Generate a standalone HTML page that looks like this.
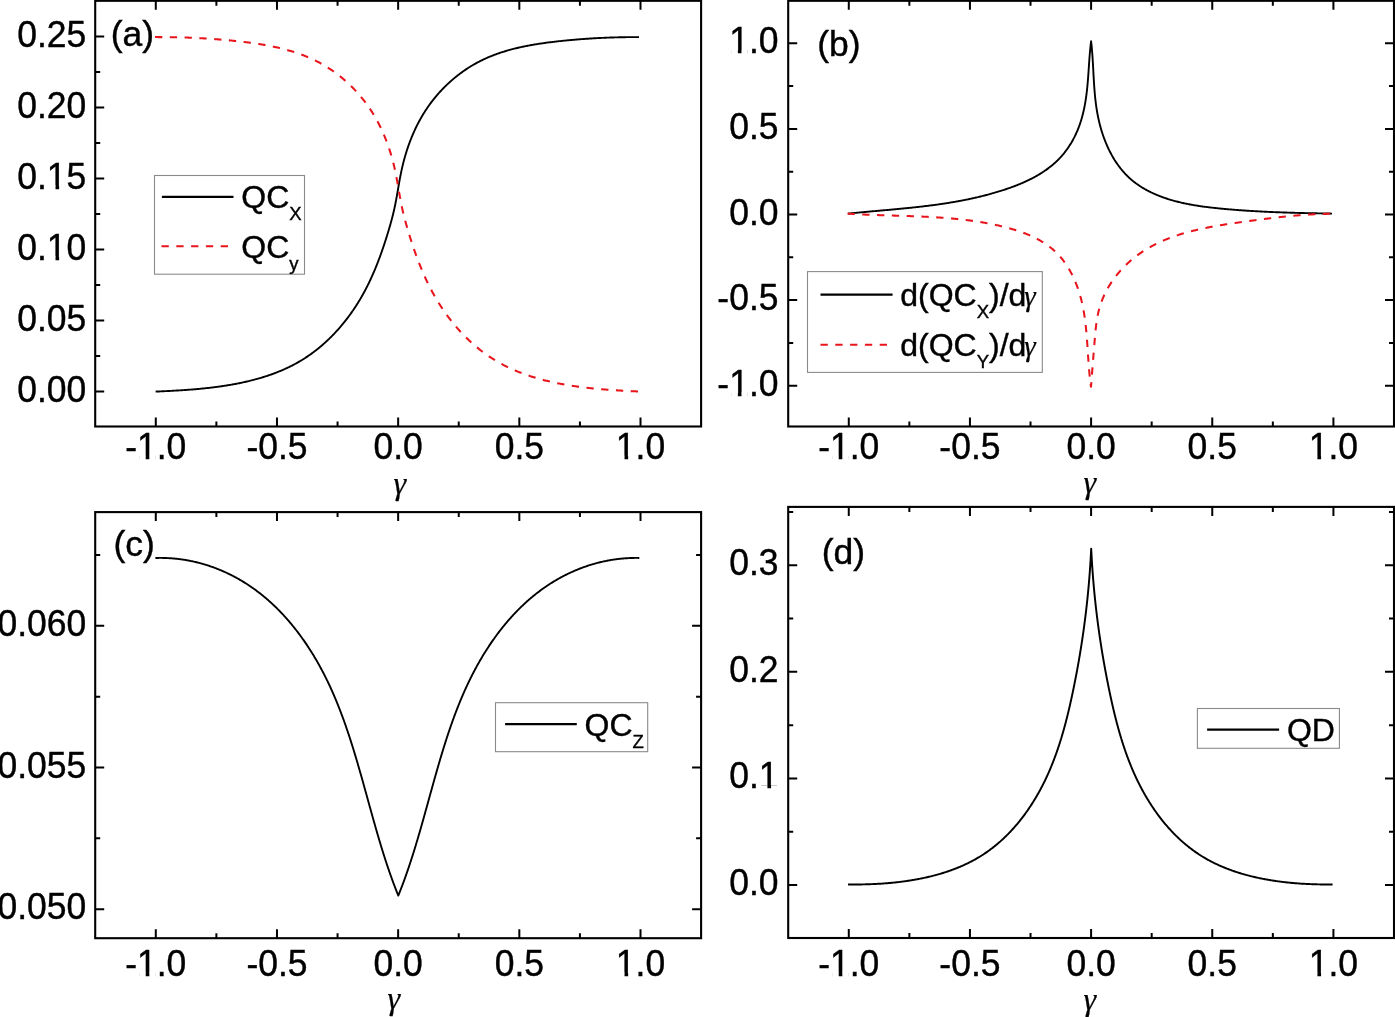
<!DOCTYPE html>
<html lang="en"><head><meta charset="utf-8"><title>Quantum coherence vs anisotropy</title>
<style>html,body{margin:0;padding:0;background:#fff}body{width:1395px;height:1017px;overflow:hidden}svg{display:block;will-change:transform}text{font-family:"Liberation Sans", sans-serif;fill:#000;stroke:#000;stroke-width:.4px}.g{font-family:"Liberation Serif", serif;font-style:italic;stroke-width:.25px}</style></head><body>
<svg width="1395" height="1017" viewBox="0 0 1395 1017">
<rect width="1395" height="1017" fill="#fff"/>
<path d="M155.6 391.6L156.53 391.56L157.45 391.52L158.38 391.48L159.31 391.43L160.24 391.39L161.18 391.35L162.11 391.3L163.05 391.26L163.98 391.22L164.92 391.17L165.86 391.12L166.81 391.08L167.75 391.03L168.69 390.98L169.64 390.93L170.59 390.88L171.54 390.83L172.49 390.78L173.44 390.73L174.39 390.67L175.34 390.62L176.3 390.56L177.25 390.51L178.21 390.45L179.17 390.39L180.13 390.33L181.09 390.27L182.05 390.21L183.01 390.15L183.97 390.08L184.93 390.01L185.9 389.95L186.86 389.88L187.82 389.81L188.79 389.74L189.76 389.66L190.72 389.59L191.69 389.51L192.66 389.43L193.63 389.35L194.6 389.27L195.57 389.19L196.54 389.11L197.51 389.02L198.48 388.93L199.45 388.84L200.42 388.75L201.39 388.66L202.36 388.56L203.34 388.46L204.31 388.36L205.28 388.26L206.25 388.16L207.23 388.05L208.2 387.95L209.17 387.84L210.15 387.73L211.12 387.61L212.09 387.5L213.06 387.38L214.04 387.26L215.01 387.13L215.98 387.01L216.95 386.88L217.92 386.75L218.9 386.62L219.87 386.48L220.84 386.34L221.81 386.2L222.78 386.06L223.75 385.91L224.72 385.77L225.69 385.61L226.65 385.46L227.62 385.3L228.59 385.15L229.55 384.98L230.52 384.82L231.48 384.65L232.45 384.48L233.41 384.31L234.37 384.13L235.33 383.95L236.3 383.77L237.26 383.58L238.21 383.39L239.17 383.2L240.13 383L241.09 382.81L242.04 382.6L242.99 382.4L243.95 382.19L244.9 381.98L245.85 381.76L246.8 381.55L247.75 381.32L248.69 381.1L249.64 380.87L250.58 380.64L251.53 380.4L252.47 380.16L253.41 379.92L254.35 379.67L255.28 379.42L256.22 379.17L257.15 378.91L258.09 378.65L259.02 378.38L259.95 378.11L260.87 377.84L261.8 377.56L262.72 377.28L263.65 376.99L264.57 376.7L265.49 376.41L266.4 376.11L267.32 375.81L268.23 375.5L269.14 375.19L270.05 374.88L270.96 374.56L271.86 374.24L272.77 373.91L273.67 373.58L274.57 373.24L275.46 372.9L276.36 372.56L277.25 372.21L278.14 371.85L279.03 371.49L279.91 371.13L280.8 370.76L281.68 370.39L282.56 370.01L283.43 369.63L284.3 369.25L285.18 368.85L286.04 368.46L286.91 368.06L287.77 367.65L288.63 367.24L289.49 366.82L290.35 366.4L291.2 365.98L292.05 365.55L292.89 365.11L293.74 364.67L294.58 364.22L295.42 363.77L296.25 363.31L297.08 362.85L297.91 362.39L298.74 361.91L299.56 361.44L300.38 360.95L301.2 360.46L302.01 359.97L302.82 359.47L303.63 358.96L304.44 358.45L305.24 357.94L306.04 357.42L306.83 356.89L307.62 356.36L308.41 355.82L309.2 355.28L309.98 354.73L310.76 354.18L311.53 353.62L312.3 353.06L313.07 352.49L313.84 351.92L314.6 351.35L315.36 350.76L316.11 350.18L316.86 349.58L317.61 348.99L318.36 348.39L319.1 347.78L319.84 347.17L320.57 346.56L321.3 345.94L322.03 345.31L322.76 344.68L323.48 344.05L324.2 343.41L324.91 342.77L325.62 342.13L326.33 341.47L327.03 340.82L327.73 340.16L328.43 339.5L329.12 338.83L329.81 338.16L330.5 337.48L331.18 336.8L331.86 336.12L332.54 335.43L333.21 334.74L333.88 334.05L334.54 333.35L335.2 332.64L335.86 331.94L336.51 331.23L337.16 330.51L337.81 329.8L338.45 329.07L339.09 328.35L339.73 327.62L340.36 326.89L340.99 326.15L341.61 325.42L342.23 324.67L342.85 323.93L343.46 323.18L344.07 322.43L344.68 321.67L345.28 320.91L345.88 320.15L346.47 319.39L347.06 318.62L347.65 317.85L348.23 317.07L348.81 316.3L349.39 315.52L349.96 314.73L350.52 313.95L351.09 313.16L351.65 312.37L352.2 311.57L352.76 310.78L353.3 309.98L353.85 309.18L354.39 308.37L354.92 307.56L355.46 306.75L355.98 305.94L356.51 305.13L357.03 304.31L357.54 303.49L358.06 302.67L358.56 301.85L359.07 301.02L359.57 300.19L360.06 299.36L360.56 298.53L361.04 297.69L361.53 296.86L362.01 296.02L362.48 295.18L362.96 294.33L363.42 293.49L363.89 292.64L364.35 291.79L364.8 290.94L365.26 290.09L365.7 289.24L366.15 288.38L366.59 287.52L367.03 286.66L367.46 285.8L367.89 284.94L368.32 284.07L368.74 283.21L369.16 282.34L369.58 281.47L369.99 280.6L370.4 279.73L370.81 278.85L371.21 277.97L371.61 277.1L372.01 276.22L372.4 275.34L372.79 274.46L373.18 273.57L373.56 272.69L373.95 271.8L374.32 270.91L374.7 270.03L375.07 269.14L375.44 268.24L375.81 267.35L376.17 266.46L376.53 265.56L376.89 264.67L377.24 263.77L377.59 262.87L377.94 261.97L378.29 261.07L378.63 260.17L378.98 259.27L379.32 258.36L379.65 257.46L379.99 256.55L380.32 255.65L380.65 254.74L380.97 253.83L381.3 252.92L381.62 252.01L381.94 251.1L382.26 250.19L382.57 249.28L382.89 248.36L383.2 247.45L383.51 246.53L383.82 245.62L384.12 244.7L384.42 243.79L384.72 242.87L385.02 241.95L385.32 241.03L385.62 240.12L385.91 239.2L386.2 238.28L386.49 237.36L386.78 236.44L387.07 235.51L387.35 234.59L387.63 233.67L387.92 232.75L388.2 231.83L388.47 230.9L388.75 229.98L389.02 229.06L389.3 228.13L389.57 227.21L389.83 226.28L390.1 225.36L390.36 224.43L390.62 223.51L390.88 222.58L391.13 221.65L391.39 220.72L391.64 219.8L391.88 218.87L392.13 217.94L392.37 217.01L392.6 216.08L392.84 215.14L393.07 214.21L393.29 213.28L393.52 212.34L393.74 211.41L393.95 210.47L394.16 209.54L394.37 208.6L394.58 207.66L394.78 206.73L394.97 205.79L395.17 204.85L395.36 203.91L395.54 202.97L395.72 202.02L395.91 201.08L396.08 200.14L396.26 199.2L396.43 198.25L396.6 197.31L396.77 196.36L396.94 195.42L397.11 194.47L397.27 193.53L397.44 192.58L397.6 191.64L397.76 190.69L397.93 189.74L398.09 188.8L398.25 187.85L398.42 186.9L398.58 185.96L398.75 185.01L398.91 184.06L399.08 183.12L399.24 182.17L399.41 181.22L399.59 180.28L399.76 179.33L399.93 178.39L400.11 177.44L400.29 176.5L400.47 175.55L400.66 174.61L400.85 173.66L401.04 172.72L401.24 171.78L401.44 170.83L401.64 169.89L401.85 168.95L402.06 168.01L402.28 167.07L402.5 166.13L402.72 165.19L402.95 164.26L403.18 163.32L403.42 162.38L403.66 161.45L403.91 160.51L404.16 159.58L404.41 158.65L404.67 157.72L404.93 156.79L405.2 155.86L405.47 154.93L405.75 154.01L406.03 153.08L406.32 152.16L406.61 151.24L406.9 150.32L407.2 149.4L407.5 148.48L407.81 147.57L408.12 146.65L408.44 145.74L408.76 144.83L409.09 143.92L409.42 143.01L409.76 142.11L410.1 141.2L410.44 140.3L410.8 139.4L411.15 138.51L411.51 137.61L411.88 136.72L412.25 135.82L412.62 134.94L413 134.05L413.38 133.16L413.77 132.28L414.17 131.4L414.57 130.52L414.97 129.65L415.38 128.77L415.79 127.9L416.21 127.04L416.64 126.17L417.07 125.31L417.5 124.45L417.94 123.59L418.39 122.74L418.84 121.88L419.29 121.03L419.75 120.19L420.22 119.34L420.69 118.5L421.16 117.67L421.65 116.83L422.13 116L422.63 115.17L423.12 114.35L423.63 113.53L424.13 112.71L424.65 111.89L425.17 111.08L425.69 110.27L426.22 109.47L426.76 108.67L427.3 107.87L427.84 107.07L428.4 106.28L428.95 105.5L429.51 104.71L430.08 103.93L430.66 103.16L431.23 102.38L431.82 101.61L432.4 100.85L433 100.09L433.6 99.33L434.2 98.58L434.81 97.83L435.42 97.08L436.04 96.34L436.66 95.61L437.29 94.87L437.93 94.14L438.56 93.42L439.21 92.7L439.85 91.98L440.51 91.27L441.16 90.56L441.82 89.86L442.49 89.16L443.16 88.47L443.84 87.78L444.52 87.09L445.2 86.41L445.89 85.74L446.58 85.07L447.28 84.4L447.98 83.74L448.69 83.08L449.4 82.43L450.11 81.78L450.83 81.14L451.56 80.5L452.28 79.87L453.01 79.24L453.75 78.62L454.49 78L455.23 77.39L455.98 76.78L456.73 76.18L457.49 75.58L458.25 74.99L459.01 74.4L459.78 73.82L460.55 73.25L461.32 72.67L462.1 72.11L462.88 71.55L463.67 71L464.46 70.45L465.25 69.9L466.05 69.37L466.85 68.84L467.65 68.31L468.46 67.79L469.27 67.28L470.09 66.77L470.9 66.26L471.72 65.77L472.55 65.28L473.38 64.79L474.21 64.31L475.04 63.84L475.88 63.37L476.72 62.91L477.56 62.46L478.41 62.01L479.26 61.56L480.11 61.13L480.96 60.7L481.82 60.28L482.68 59.86L483.55 59.45L484.42 59.04L485.29 58.64L486.16 58.25L487.03 57.86L487.91 57.48L488.79 57.1L489.67 56.73L490.56 56.37L491.45 56.01L492.34 55.65L493.23 55.31L494.13 54.96L495.02 54.63L495.92 54.29L496.83 53.97L497.73 53.65L498.64 53.33L499.55 53.02L500.46 52.71L501.37 52.41L502.29 52.11L503.2 51.82L504.12 51.54L505.04 51.25L505.97 50.98L506.89 50.7L507.82 50.44L508.74 50.17L509.67 49.91L510.6 49.66L511.54 49.41L512.47 49.16L513.41 48.92L514.35 48.68L515.28 48.45L516.22 48.22L517.17 47.99L518.11 47.77L519.05 47.55L520 47.34L520.95 47.13L521.89 46.92L522.84 46.72L523.79 46.52L524.74 46.33L525.7 46.14L526.65 45.95L527.6 45.76L528.56 45.58L529.51 45.4L530.47 45.23L531.43 45.05L532.38 44.88L533.34 44.72L534.3 44.56L535.26 44.4L536.22 44.24L537.18 44.08L538.15 43.93L539.11 43.78L540.07 43.64L541.03 43.49L541.99 43.35L542.96 43.21L543.92 43.08L544.89 42.94L545.85 42.81L546.81 42.68L547.78 42.56L548.74 42.43L549.7 42.31L550.67 42.19L551.63 42.07L552.6 41.95L553.56 41.84L554.52 41.72L555.49 41.61L556.45 41.5L557.41 41.39L558.37 41.29L559.33 41.18L560.3 41.08L561.26 40.98L562.22 40.88L563.18 40.78L564.13 40.68L565.09 40.58L566.05 40.49L567.01 40.39L567.97 40.3L568.92 40.21L569.88 40.12L570.84 40.03L571.79 39.95L572.75 39.86L573.71 39.78L574.66 39.69L575.62 39.61L576.57 39.53L577.53 39.45L578.48 39.38L579.44 39.3L580.39 39.23L581.34 39.15L582.3 39.08L583.25 39.01L584.21 38.94L585.16 38.87L586.11 38.81L587.07 38.74L588.02 38.68L588.98 38.62L589.93 38.55L590.88 38.49L591.84 38.44L592.79 38.38L593.75 38.32L594.7 38.27L595.65 38.21L596.61 38.16L597.56 38.11L598.52 38.06L599.47 38.01L600.43 37.97L601.38 37.92L602.34 37.88L603.29 37.83L604.25 37.79L605.21 37.75L606.16 37.71L607.12 37.67L608.08 37.64L609.04 37.6L609.99 37.57L610.95 37.53L611.91 37.5L612.87 37.47L613.83 37.44L614.79 37.41L615.75 37.39L616.71 37.36L617.67 37.34L618.64 37.31L619.6 37.29L620.56 37.27L621.53 37.25L622.49 37.23L623.46 37.22L624.42 37.2L625.39 37.18L626.36 37.17L627.33 37.16L628.29 37.15L629.26 37.14L630.23 37.13L631.2 37.12L632.18 37.11L633.15 37.11L634.12 37.1L635.1 37.1L636.07 37.1L637.05 37.1L638.02 37.1L639 37.1" fill="none" stroke="#000" stroke-width="1.9" stroke-linejoin="round"/>
<path d="M155 37.07L157.6 37.1L158.58 37.1L159.55 37.1L160.53 37.1L161.5 37.1L162.48 37.1L163.45 37.11L164.42 37.11L165.4 37.12L166.37 37.13L167.34 37.14L168.31 37.15L169.27 37.16L170.24 37.17L171.21 37.18L172.18 37.2L173.14 37.22L174.11 37.23L175.07 37.25L176.04 37.27L177 37.29L177.96 37.31L178.93 37.34L179.89 37.36L180.85 37.39L181.81 37.41L182.77 37.44L183.73 37.47L184.69 37.5L185.65 37.53L186.61 37.57L187.56 37.6L188.52 37.64L189.48 37.67L190.44 37.71L191.39 37.75L192.35 37.79L193.31 37.83L194.26 37.88L195.22 37.92L196.17 37.97L197.13 38.01L198.08 38.06L199.04 38.11L199.99 38.16L200.95 38.21L201.9 38.27L202.85 38.32L203.81 38.38L204.76 38.44L205.72 38.49L206.67 38.55L207.62 38.62L208.58 38.68L209.53 38.74L210.49 38.81L211.44 38.87L212.39 38.94L213.35 39.01L214.3 39.08L215.26 39.15L216.21 39.23L217.16 39.3L218.12 39.38L219.07 39.45L220.03 39.53L220.98 39.61L221.94 39.69L222.89 39.78L223.85 39.86L224.81 39.95L225.76 40.03L226.72 40.12L227.68 40.21L228.63 40.3L229.59 40.39L230.55 40.49L231.51 40.58L232.47 40.68L233.42 40.78L234.38 40.88L235.34 40.98L236.3 41.08L237.27 41.18L238.23 41.29L239.19 41.39L240.15 41.5L241.11 41.61L242.08 41.72L243.04 41.84L244 41.95L244.97 42.07L245.93 42.19L246.9 42.31L247.86 42.43L248.82 42.56L249.79 42.68L250.75 42.81L251.71 42.94L252.68 43.08L253.64 43.21L254.61 43.35L255.57 43.49L256.53 43.64L257.49 43.78L258.45 43.93L259.42 44.08L260.38 44.24L261.34 44.4L262.3 44.56L263.26 44.72L264.22 44.88L265.17 45.05L266.13 45.23L267.09 45.4L268.04 45.58L269 45.76L269.95 45.95L270.9 46.14L271.86 46.33L272.81 46.52L273.76 46.72L274.71 46.92L275.65 47.13L276.6 47.34L277.55 47.55L278.49 47.77L279.43 47.99L280.38 48.22L281.32 48.45L282.25 48.68L283.19 48.92L284.13 49.16L285.06 49.41L286 49.66L286.93 49.91L287.86 50.17L288.78 50.44L289.71 50.7L290.63 50.98L291.56 51.25L292.48 51.54L293.4 51.82L294.31 52.11L295.23 52.41L296.14 52.71L297.05 53.02L297.96 53.33L298.87 53.65L299.77 53.97L300.68 54.29L301.58 54.63L302.47 54.96L303.37 55.31L304.26 55.65L305.15 56.01L306.04 56.37L306.93 56.73L307.81 57.1L308.69 57.48L309.57 57.86L310.44 58.25L311.31 58.64L312.18 59.04L313.05 59.45L313.92 59.86L314.78 60.28L315.64 60.7L316.49 61.13L317.34 61.56L318.19 62.01L319.04 62.46L319.88 62.91L320.72 63.37L321.56 63.84L322.39 64.31L323.22 64.79L324.05 65.28L324.88 65.77L325.7 66.26L326.51 66.77L327.33 67.28L328.14 67.79L328.95 68.31L329.75 68.84L330.55 69.37L331.35 69.9L332.14 70.45L332.93 71L333.72 71.55L334.5 72.11L335.28 72.67L336.05 73.25L336.82 73.82L337.59 74.4L338.35 74.99L339.11 75.58L339.87 76.18L340.62 76.78L341.37 77.39L342.11 78L342.85 78.62L343.59 79.24L344.32 79.87L345.04 80.5L345.77 81.14L346.49 81.78L347.2 82.43L347.91 83.08L348.62 83.74L349.32 84.4L350.02 85.07L350.71 85.74L351.4 86.41L352.08 87.09L352.76 87.78L353.44 88.47L354.11 89.16L354.78 89.86L355.44 90.56L356.09 91.27L356.75 91.98L357.39 92.7L358.04 93.42L358.67 94.14L359.31 94.87L359.94 95.61L360.56 96.34L361.18 97.08L361.79 97.83L362.4 98.58L363 99.33L363.6 100.09L364.2 100.85L364.78 101.61L365.37 102.38L365.94 103.16L366.52 103.93L367.09 104.71L367.65 105.5L368.2 106.28L368.76 107.07L369.3 107.87L369.84 108.67L370.38 109.47L370.91 110.27L371.43 111.08L371.95 111.89L372.47 112.71L372.97 113.53L373.48 114.35L373.97 115.17L374.47 116L374.95 116.83L375.44 117.67L375.91 118.5L376.38 119.34L376.85 120.19L377.31 121.03L377.76 121.88L378.21 122.74L378.66 123.59L379.1 124.45L379.53 125.31L379.96 126.17L380.39 127.04L380.81 127.9L381.22 128.77L381.63 129.65L382.03 130.52L382.43 131.4L382.83 132.28L383.22 133.16L383.6 134.05L383.98 134.94L384.35 135.82L384.72 136.72L385.09 137.61L385.45 138.51L385.8 139.4L386.16 140.3L386.5 141.2L386.84 142.11L387.18 143.01L387.51 143.92L387.84 144.83L388.16 145.74L388.48 146.65L388.79 147.57L389.1 148.48L389.4 149.4L389.7 150.32L389.99 151.24L390.28 152.16L390.57 153.08L390.85 154.01L391.13 154.93L391.4 155.86L391.67 156.79L391.93 157.72L392.19 158.65L392.44 159.58L392.69 160.51L392.94 161.45L393.18 162.38L393.42 163.32L393.65 164.26L393.88 165.19L394.1 166.13L394.32 167.07L394.54 168.01L394.75 168.95L394.96 169.89L395.16 170.83L395.36 171.78L395.56 172.72L395.75 173.66L395.94 174.61L396.13 175.55L396.31 176.5L396.49 177.44L396.67 178.39L396.84 179.33L397.01 180.28L397.19 181.22L397.36 182.17L397.52 183.12L397.69 184.06L397.85 185.01L398.02 185.96L398.18 186.9L398.35 187.85L398.51 188.8L398.67 189.74L398.84 190.69L399 191.64L399.16 192.58L399.33 193.53L399.49 194.47L399.66 195.42L399.83 196.36L400 197.31L400.17 198.25L400.34 199.2L400.52 200.14L400.69 201.08L400.88 202.02L401.06 202.97L401.24 203.91L401.43 204.85L401.63 205.79L401.82 206.73L402.02 207.66L402.23 208.6L402.44 209.54L402.65 210.47L402.86 211.41L403.08 212.34L403.31 213.28L403.53 214.21L403.76 215.14L404 216.08L404.23 217.01L404.47 217.94L404.72 218.87L404.96 219.8L405.21 220.72L405.47 221.65L405.72 222.58L405.98 223.51L406.24 224.43L406.5 225.36L406.77 226.28L407.03 227.21L407.3 228.13L407.58 229.06L407.85 229.98L408.13 230.9L408.4 231.83L408.68 232.75L408.97 233.67L409.25 234.59L409.53 235.51L409.82 236.44L410.11 237.36L410.4 238.28L410.69 239.2L410.98 240.12L411.28 241.03L411.58 241.95L411.88 242.87L412.18 243.79L412.48 244.7L412.78 245.62L413.09 246.53L413.4 247.45L413.71 248.36L414.03 249.28L414.34 250.19L414.66 251.1L414.98 252.01L415.3 252.92L415.63 253.83L415.95 254.74L416.28 255.65L416.61 256.55L416.95 257.46L417.28 258.36L417.62 259.27L417.97 260.17L418.31 261.07L418.66 261.97L419.01 262.87L419.36 263.77L419.71 264.67L420.07 265.56L420.43 266.46L420.79 267.35L421.16 268.24L421.53 269.14L421.9 270.03L422.28 270.91L422.65 271.8L423.04 272.69L423.42 273.57L423.81 274.46L424.2 275.34L424.59 276.22L424.99 277.1L425.39 277.97L425.79 278.85L426.2 279.73L426.61 280.6L427.02 281.47L427.44 282.34L427.86 283.21L428.28 284.07L428.71 284.94L429.14 285.8L429.57 286.66L430.01 287.52L430.45 288.38L430.9 289.24L431.34 290.09L431.8 290.94L432.25 291.79L432.71 292.64L433.18 293.49L433.64 294.33L434.12 295.18L434.59 296.02L435.07 296.86L435.56 297.69L436.04 298.53L436.54 299.36L437.03 300.19L437.53 301.02L438.04 301.85L438.54 302.67L439.06 303.49L439.57 304.31L440.09 305.13L440.62 305.94L441.14 306.75L441.68 307.56L442.21 308.37L442.75 309.18L443.3 309.98L443.84 310.78L444.4 311.57L444.95 312.37L445.51 313.16L446.08 313.95L446.64 314.73L447.21 315.52L447.79 316.3L448.37 317.07L448.95 317.85L449.54 318.62L450.13 319.39L450.72 320.15L451.32 320.91L451.92 321.67L452.53 322.43L453.14 323.18L453.75 323.93L454.37 324.67L454.99 325.42L455.61 326.15L456.24 326.89L456.87 327.62L457.51 328.35L458.15 329.07L458.79 329.8L459.44 330.51L460.09 331.23L460.74 331.94L461.4 332.64L462.06 333.35L462.72 334.05L463.39 334.74L464.06 335.43L464.74 336.12L465.42 336.8L466.1 337.48L466.79 338.16L467.48 338.83L468.17 339.5L468.87 340.16L469.57 340.82L470.27 341.47L470.98 342.13L471.69 342.77L472.4 343.41L473.12 344.05L473.84 344.68L474.57 345.31L475.3 345.94L476.03 346.56L476.76 347.17L477.5 347.78L478.24 348.39L478.99 348.99L479.74 349.58L480.49 350.18L481.24 350.76L482 351.35L482.76 351.92L483.53 352.49L484.3 353.06L485.07 353.62L485.84 354.18L486.62 354.73L487.4 355.28L488.19 355.82L488.98 356.36L489.77 356.89L490.56 357.42L491.36 357.94L492.16 358.45L492.97 358.96L493.78 359.47L494.59 359.97L495.4 360.46L496.22 360.95L497.04 361.44L497.86 361.91L498.69 362.39L499.52 362.85L500.35 363.31L501.18 363.77L502.02 364.22L502.86 364.67L503.71 365.11L504.55 365.55L505.4 365.98L506.25 366.4L507.11 366.82L507.97 367.24L508.83 367.65L509.69 368.06L510.56 368.46L511.42 368.85L512.3 369.25L513.17 369.63L514.04 370.01L514.92 370.39L515.8 370.76L516.69 371.13L517.57 371.49L518.46 371.85L519.35 372.21L520.24 372.56L521.14 372.9L522.03 373.24L522.93 373.58L523.83 373.91L524.74 374.24L525.64 374.56L526.55 374.88L527.46 375.19L528.37 375.5L529.28 375.81L530.2 376.11L531.11 376.41L532.03 376.7L532.95 376.99L533.88 377.28L534.8 377.56L535.73 377.84L536.65 378.11L537.58 378.38L538.51 378.65L539.45 378.91L540.38 379.17L541.32 379.42L542.25 379.67L543.19 379.92L544.13 380.16L545.07 380.4L546.02 380.64L546.96 380.87L547.91 381.1L548.85 381.32L549.8 381.55L550.75 381.76L551.7 381.98L552.65 382.19L553.61 382.4L554.56 382.6L555.51 382.81L556.47 383L557.43 383.2L558.39 383.39L559.34 383.58L560.3 383.77L561.27 383.95L562.23 384.13L563.19 384.31L564.15 384.48L565.12 384.65L566.08 384.82L567.05 384.98L568.01 385.15L568.98 385.3L569.95 385.46L570.91 385.61L571.88 385.77L572.85 385.91L573.82 386.06L574.79 386.2L575.76 386.34L576.73 386.48L577.7 386.62L578.68 386.75L579.65 386.88L580.62 387.01L581.59 387.13L582.56 387.26L583.54 387.38L584.51 387.5L585.48 387.61L586.45 387.73L587.43 387.84L588.4 387.95L589.37 388.05L590.35 388.16L591.32 388.26L592.29 388.36L593.26 388.46L594.24 388.56L595.21 388.66L596.18 388.75L597.15 388.84L598.12 388.93L599.09 389.02L600.06 389.11L601.03 389.19L602 389.27L602.97 389.35L603.94 389.43L604.91 389.51L605.88 389.59L606.84 389.66L607.81 389.74L608.78 389.81L609.74 389.88L610.7 389.95L611.67 390.01L612.63 390.08L613.59 390.15L614.55 390.21L615.51 390.27L616.47 390.33L617.43 390.39L618.39 390.45L619.35 390.51L620.3 390.56L621.26 390.62L622.21 390.67L623.16 390.73L624.11 390.78L625.06 390.83L626.01 390.88L626.96 390.93L627.91 390.98L628.85 391.03L629.79 391.08L630.74 391.12L631.68 391.17L632.62 391.22L633.55 391.26L634.49 391.3L635.42 391.35L636.36 391.39L637.29 391.43L638.22 391.48L639.15 391.52" fill="none" stroke="#e8151d" stroke-width="2.05" stroke-linejoin="round" stroke-dasharray="7.3 7.5"/>
<path d="M848 213.6L848.87 213.51L849.74 213.43L850.6 213.34L851.47 213.25L852.34 213.17L853.21 213.08L854.07 213L854.94 212.91L855.81 212.83L856.67 212.75L857.54 212.67L858.41 212.58L859.28 212.5L860.14 212.42L861.01 212.34L861.88 212.26L862.74 212.18L863.61 212.1L864.48 212.02L865.34 211.94L866.21 211.86L867.08 211.79L867.94 211.71L868.81 211.63L869.67 211.55L870.54 211.47L871.41 211.4L872.27 211.32L873.14 211.24L874 211.17L874.87 211.09L875.74 211.01L876.6 210.94L877.47 210.86L878.33 210.78L879.2 210.7L880.06 210.63L880.93 210.55L881.79 210.47L882.66 210.4L883.52 210.32L884.39 210.24L885.25 210.17L886.12 210.09L886.98 210.01L887.85 209.93L888.71 209.86L889.57 209.78L890.44 209.7L891.3 209.62L892.17 209.54L893.03 209.46L893.89 209.38L894.76 209.3L895.62 209.22L896.48 209.14L897.35 209.06L898.21 208.98L899.07 208.9L899.94 208.82L900.8 208.74L901.66 208.65L902.52 208.57L903.39 208.49L904.25 208.4L905.11 208.32L905.97 208.23L906.84 208.14L907.7 208.06L908.56 207.97L909.42 207.88L910.28 207.79L911.14 207.7L912 207.61L912.87 207.52L913.73 207.43L914.59 207.34L915.45 207.25L916.31 207.15L917.17 207.06L918.03 206.96L918.89 206.86L919.75 206.77L920.61 206.67L921.47 206.57L922.33 206.47L923.19 206.37L924.05 206.27L924.91 206.17L925.77 206.06L926.62 205.96L927.48 205.85L928.34 205.74L929.2 205.64L930.06 205.53L930.92 205.42L931.77 205.31L932.63 205.19L933.49 205.08L934.35 204.97L935.21 204.85L936.06 204.73L936.92 204.61L937.78 204.5L938.63 204.37L939.49 204.25L940.35 204.13L941.2 204L942.06 203.88L942.91 203.75L943.77 203.62L944.63 203.49L945.48 203.36L946.34 203.23L947.19 203.09L948.05 202.96L948.9 202.82L949.75 202.68L950.61 202.54L951.46 202.4L952.32 202.26L953.17 202.11L954.02 201.96L954.88 201.82L955.73 201.67L956.58 201.51L957.44 201.36L958.29 201.21L959.14 201.05L959.99 200.89L960.85 200.73L961.7 200.57L962.55 200.41L963.4 200.24L964.25 200.07L965.1 199.9L965.95 199.73L966.8 199.56L967.66 199.39L968.51 199.21L969.36 199.03L970.21 198.85L971.06 198.67L971.9 198.48L972.75 198.3L973.6 198.11L974.45 197.92L975.3 197.73L976.15 197.53L977 197.33L977.85 197.14L978.69 196.93L979.54 196.73L980.39 196.53L981.23 196.32L982.08 196.11L982.93 195.9L983.77 195.68L984.62 195.47L985.47 195.25L986.31 195.03L987.16 194.8L988 194.58L988.85 194.35L989.69 194.12L990.54 193.89L991.38 193.65L992.23 193.42L993.07 193.18L993.91 192.93L994.76 192.69L995.6 192.44L996.44 192.19L997.29 191.94L998.13 191.68L998.97 191.43L999.81 191.17L1000.66 190.9L1001.5 190.64L1002.34 190.37L1003.18 190.1L1004.02 189.83L1004.86 189.55L1005.7 189.27L1006.53 188.99L1007.37 188.7L1008.21 188.41L1009.04 188.12L1009.88 187.83L1010.71 187.53L1011.54 187.23L1012.37 186.93L1013.2 186.62L1014.03 186.31L1014.86 185.99L1015.68 185.68L1016.5 185.36L1017.32 185.03L1018.14 184.7L1018.96 184.37L1019.78 184.04L1020.59 183.7L1021.4 183.35L1022.21 183.01L1023.02 182.66L1023.82 182.3L1024.62 181.94L1025.42 181.58L1026.22 181.21L1027.02 180.84L1027.81 180.47L1028.6 180.09L1029.38 179.71L1030.16 179.32L1030.94 178.93L1031.72 178.53L1032.5 178.13L1033.27 177.72L1034.03 177.31L1034.8 176.9L1035.56 176.48L1036.31 176.06L1037.07 175.63L1037.81 175.2L1038.56 174.76L1039.3 174.32L1040.04 173.87L1040.77 173.42L1041.5 172.96L1042.23 172.5L1042.95 172.03L1043.66 171.56L1044.38 171.08L1045.08 170.59L1045.79 170.11L1046.49 169.61L1047.18 169.11L1047.87 168.61L1048.55 168.1L1049.23 167.58L1049.91 167.06L1050.58 166.53L1051.24 166L1051.9 165.46L1052.55 164.92L1053.2 164.37L1053.84 163.82L1054.48 163.25L1055.11 162.69L1055.74 162.11L1056.36 161.53L1056.97 160.95L1057.58 160.36L1058.18 159.76L1058.78 159.16L1059.37 158.55L1059.95 157.93L1060.53 157.31L1061.1 156.68L1061.67 156.04L1062.22 155.4L1062.78 154.75L1063.32 154.1L1063.86 153.44L1064.4 152.78L1064.92 152.11L1065.44 151.43L1065.96 150.75L1066.47 150.06L1066.97 149.37L1067.46 148.67L1067.95 147.97L1068.43 147.26L1068.91 146.55L1069.38 145.83L1069.84 145.11L1070.3 144.38L1070.75 143.65L1071.2 142.92L1071.63 142.17L1072.06 141.43L1072.49 140.68L1072.91 139.93L1073.32 139.17L1073.72 138.4L1074.12 137.64L1074.52 136.87L1074.9 136.09L1075.28 135.31L1075.65 134.53L1076.02 133.75L1076.38 132.96L1076.73 132.17L1077.08 131.37L1077.42 130.57L1077.75 129.77L1078.08 128.96L1078.4 128.15L1078.72 127.34L1079.02 126.53L1079.32 125.71L1079.62 124.89L1079.91 124.07L1080.19 123.24L1080.46 122.41L1080.73 121.58L1080.99 120.75L1081.25 119.91L1081.5 119.08L1081.74 118.24L1081.98 117.39L1082.21 116.55L1082.44 115.7L1082.66 114.86L1082.88 114.01L1083.09 113.16L1083.29 112.3L1083.49 111.45L1083.69 110.59L1083.88 109.73L1084.06 108.87L1084.24 108.01L1084.41 107.15L1084.58 106.29L1084.75 105.42L1084.91 104.56L1085.06 103.69L1085.21 102.83L1085.36 101.96L1085.5 101.09L1085.64 100.22L1085.78 99.35L1085.91 98.48L1086.03 97.61L1086.16 96.73L1086.28 95.86L1086.39 94.99L1086.5 94.12L1086.61 93.24L1086.72 92.37L1086.82 91.49L1086.92 90.62L1087.01 89.74L1087.11 88.87L1087.2 87.99L1087.29 87.12L1087.37 86.24L1087.45 85.37L1087.53 84.49L1087.61 83.62L1087.69 82.74L1087.76 81.86L1087.84 80.99L1087.91 80.11L1087.98 79.24L1088.05 78.36L1088.11 77.49L1088.18 76.61L1088.24 75.74L1088.3 74.86L1088.37 73.99L1088.43 73.11L1088.49 72.24L1088.55 71.37L1088.61 70.5L1088.67 69.62L1088.72 68.75L1088.78 67.88L1088.84 67.01L1088.9 66.14L1088.96 65.27L1089.02 64.4L1089.08 63.53L1089.14 62.67L1089.2 61.8L1089.26 60.93L1089.32 60.07L1089.38 59.2L1089.44 58.34L1089.51 57.48L1089.57 56.62L1089.64 55.76L1089.71 54.9L1089.78 54.04L1089.85 53.18L1089.93 52.32L1090 51.47L1090.08 50.61L1090.16 49.76L1090.24 48.91L1090.33 48.06L1090.41 47.21L1090.5 46.36L1090.6 45.51L1090.69 44.67L1090.79 43.82L1090.89 42.98L1090.99 42.14L1091.1 41.3L1091.2 42.18L1091.3 43.06L1091.4 43.93L1091.49 44.81L1091.58 45.69L1091.67 46.57L1091.75 47.45L1091.83 48.33L1091.91 49.22L1091.99 50.1L1092.06 50.98L1092.13 51.86L1092.2 52.75L1092.27 53.63L1092.34 54.51L1092.4 55.4L1092.46 56.28L1092.52 57.17L1092.58 58.05L1092.64 58.94L1092.69 59.82L1092.75 60.71L1092.8 61.59L1092.85 62.48L1092.91 63.37L1092.96 64.25L1093.01 65.14L1093.05 66.03L1093.1 66.92L1093.15 67.8L1093.2 68.69L1093.25 69.58L1093.29 70.47L1093.34 71.36L1093.39 72.25L1093.43 73.14L1093.48 74.02L1093.53 74.91L1093.58 75.8L1093.63 76.69L1093.68 77.58L1093.73 78.47L1093.78 79.36L1093.83 80.25L1093.88 81.14L1093.94 82.03L1093.99 82.92L1094.05 83.81L1094.11 84.7L1094.17 85.59L1094.23 86.48L1094.29 87.37L1094.36 88.26L1094.42 89.15L1094.49 90.04L1094.56 90.92L1094.64 91.81L1094.71 92.7L1094.79 93.59L1094.87 94.48L1094.95 95.37L1095.04 96.26L1095.13 97.15L1095.22 98.04L1095.32 98.92L1095.41 99.81L1095.52 100.7L1095.62 101.59L1095.73 102.47L1095.84 103.36L1095.95 104.25L1096.07 105.14L1096.2 106.02L1096.32 106.91L1096.45 107.79L1096.59 108.68L1096.73 109.57L1096.87 110.45L1097.02 111.34L1097.17 112.22L1097.33 113.1L1097.49 113.99L1097.66 114.87L1097.83 115.75L1098.01 116.64L1098.19 117.52L1098.37 118.4L1098.57 119.28L1098.76 120.16L1098.96 121.04L1099.17 121.92L1099.38 122.8L1099.6 123.67L1099.82 124.55L1100.05 125.42L1100.29 126.29L1100.52 127.16L1100.77 128.03L1101.02 128.9L1101.27 129.77L1101.53 130.63L1101.8 131.5L1102.07 132.36L1102.34 133.22L1102.62 134.07L1102.91 134.93L1103.2 135.78L1103.5 136.63L1103.8 137.48L1104.11 138.33L1104.42 139.17L1104.74 140.01L1105.07 140.85L1105.4 141.68L1105.74 142.51L1106.08 143.34L1106.43 144.17L1106.78 144.99L1107.14 145.81L1107.5 146.63L1107.87 147.44L1108.25 148.25L1108.63 149.06L1109.02 149.86L1109.41 150.66L1109.81 151.45L1110.22 152.24L1110.63 153.03L1111.04 153.81L1111.47 154.59L1111.9 155.37L1112.33 156.14L1112.77 156.9L1113.22 157.66L1113.67 158.42L1114.13 159.17L1114.59 159.92L1115.07 160.66L1115.54 161.4L1116.03 162.14L1116.51 162.86L1117.01 163.59L1117.51 164.3L1118.02 165.02L1118.53 165.72L1119.05 166.43L1119.58 167.12L1120.11 167.81L1120.65 168.5L1121.19 169.18L1121.75 169.85L1122.3 170.52L1122.87 171.18L1123.44 171.84L1124.02 172.49L1124.6 173.13L1125.19 173.77L1125.78 174.4L1126.39 175.02L1127 175.64L1127.61 176.25L1128.23 176.85L1128.86 177.45L1129.5 178.04L1130.14 178.62L1130.79 179.2L1131.44 179.77L1132.11 180.33L1132.77 180.88L1133.45 181.43L1134.13 181.97L1134.82 182.5L1135.51 183.03L1136.21 183.54L1136.92 184.06L1137.63 184.56L1138.35 185.06L1139.07 185.55L1139.8 186.03L1140.54 186.51L1141.28 186.98L1142.03 187.44L1142.78 187.9L1143.53 188.35L1144.3 188.79L1145.06 189.23L1145.83 189.66L1146.61 190.08L1147.39 190.5L1148.17 190.91L1148.96 191.32L1149.76 191.72L1150.56 192.11L1151.36 192.5L1152.16 192.88L1152.97 193.25L1153.79 193.62L1154.6 193.99L1155.43 194.34L1156.25 194.7L1157.08 195.04L1157.91 195.38L1158.74 195.72L1159.58 196.05L1160.42 196.37L1161.26 196.69L1162.11 197L1162.96 197.31L1163.81 197.61L1164.66 197.91L1165.52 198.2L1166.38 198.48L1167.24 198.77L1168.1 199.04L1168.96 199.31L1169.83 199.58L1170.7 199.84L1171.56 200.1L1172.43 200.35L1173.31 200.59L1174.18 200.84L1175.05 201.07L1175.93 201.31L1176.81 201.54L1177.68 201.76L1178.56 201.98L1179.44 202.19L1180.32 202.4L1181.2 202.61L1182.08 202.81L1182.96 203.01L1183.84 203.2L1184.72 203.39L1185.61 203.58L1186.49 203.76L1187.37 203.94L1188.25 204.11L1189.14 204.28L1190.02 204.45L1190.91 204.62L1191.79 204.78L1192.68 204.93L1193.56 205.09L1194.45 205.24L1195.33 205.38L1196.22 205.53L1197.11 205.67L1197.99 205.81L1198.88 205.94L1199.77 206.08L1200.65 206.21L1201.54 206.33L1202.43 206.46L1203.32 206.58L1204.2 206.7L1205.09 206.82L1205.98 206.93L1206.87 207.04L1207.75 207.15L1208.64 207.26L1209.53 207.37L1210.42 207.47L1211.31 207.58L1212.19 207.68L1213.08 207.78L1213.97 207.87L1214.86 207.97L1215.75 208.06L1216.63 208.16L1217.52 208.25L1218.41 208.34L1219.3 208.43L1220.18 208.52L1221.07 208.6L1221.96 208.69L1222.85 208.77L1223.73 208.86L1224.62 208.94L1225.5 209.02L1226.39 209.1L1227.28 209.18L1228.16 209.26L1229.05 209.33L1229.93 209.41L1230.82 209.49L1231.71 209.56L1232.59 209.63L1233.48 209.71L1234.36 209.78L1235.25 209.85L1236.13 209.92L1237.02 209.98L1237.9 210.05L1238.79 210.12L1239.67 210.18L1240.56 210.25L1241.44 210.31L1242.32 210.38L1243.21 210.44L1244.09 210.5L1244.98 210.56L1245.86 210.62L1246.75 210.68L1247.63 210.74L1248.51 210.79L1249.4 210.85L1250.28 210.9L1251.17 210.96L1252.05 211.01L1252.93 211.06L1253.82 211.12L1254.7 211.17L1255.59 211.22L1256.47 211.27L1257.35 211.32L1258.24 211.37L1259.12 211.41L1260 211.46L1260.89 211.51L1261.77 211.55L1262.66 211.6L1263.54 211.64L1264.42 211.68L1265.31 211.73L1266.19 211.77L1267.08 211.81L1267.96 211.85L1268.84 211.89L1269.73 211.93L1270.61 211.97L1271.5 212.01L1272.38 212.04L1273.27 212.08L1274.15 212.12L1275.04 212.15L1275.92 212.19L1276.81 212.22L1277.69 212.26L1278.58 212.29L1279.46 212.32L1280.35 212.35L1281.23 212.39L1282.12 212.42L1283 212.45L1283.89 212.48L1284.77 212.51L1285.66 212.54L1286.55 212.57L1287.43 212.6L1288.32 212.62L1289.21 212.65L1290.09 212.68L1290.98 212.7L1291.87 212.73L1292.75 212.76L1293.64 212.78L1294.53 212.81L1295.41 212.83L1296.3 212.86L1297.19 212.88L1298.08 212.9L1298.97 212.93L1299.86 212.95L1300.74 212.97L1301.63 212.99L1302.52 213.01L1303.41 213.04L1304.3 213.06L1305.19 213.08L1306.08 213.1L1306.97 213.12L1307.86 213.14L1308.75 213.16L1309.64 213.18L1310.53 213.2L1311.42 213.21L1312.32 213.23L1313.21 213.25L1314.1 213.27L1314.99 213.29L1315.89 213.31L1316.78 213.32L1317.67 213.34L1318.56 213.36L1319.46 213.37L1320.35 213.39L1321.25 213.41L1322.14 213.43L1323.04 213.44L1323.93 213.46L1324.83 213.47L1325.72 213.49L1326.62 213.51L1327.51 213.52L1328.41 213.54L1329.31 213.55L1330.2 213.57L1331.1 213.58L1332 213.6" fill="none" stroke="#000" stroke-width="1.9" stroke-linejoin="round"/>
<path d="M847.5 213.6L848.4 213.66L849.3 213.72L850.2 213.78L851.1 213.84L852 213.89L852.9 213.95L853.8 214L854.7 214.05L855.6 214.11L856.5 214.16L857.4 214.21L858.3 214.25L859.19 214.3L860.09 214.35L860.99 214.39L861.89 214.44L862.79 214.48L863.69 214.52L864.58 214.57L865.48 214.61L866.38 214.65L867.28 214.69L868.18 214.72L869.07 214.76L869.97 214.8L870.87 214.83L871.76 214.87L872.66 214.9L873.56 214.94L874.46 214.97L875.35 215.01L876.25 215.04L877.15 215.07L878.04 215.1L878.94 215.13L879.83 215.16L880.73 215.19L881.63 215.22L882.52 215.25L883.42 215.28L884.31 215.31L885.21 215.34L886.11 215.37L887 215.4L887.9 215.43L888.79 215.45L889.69 215.48L890.58 215.51L891.48 215.54L892.37 215.56L893.27 215.59L894.16 215.62L895.06 215.64L895.95 215.67L896.85 215.7L897.74 215.73L898.63 215.75L899.53 215.78L900.42 215.81L901.32 215.84L902.21 215.86L903.1 215.89L904 215.92L904.89 215.95L905.79 215.98L906.68 216.01L907.57 216.04L908.47 216.07L909.36 216.1L910.25 216.13L911.15 216.16L912.04 216.19L912.93 216.22L913.83 216.26L914.72 216.29L915.61 216.33L916.5 216.36L917.4 216.39L918.29 216.43L919.18 216.47L920.07 216.5L920.97 216.54L921.86 216.58L922.75 216.62L923.64 216.66L924.54 216.7L925.43 216.74L926.32 216.79L927.21 216.83L928.1 216.88L929 216.92L929.89 216.97L930.78 217.02L931.67 217.06L932.56 217.11L933.46 217.17L934.35 217.22L935.24 217.27L936.13 217.32L937.02 217.38L937.91 217.44L938.8 217.49L939.7 217.55L940.59 217.61L941.48 217.68L942.37 217.74L943.26 217.8L944.15 217.87L945.04 217.94L945.93 218.01L946.82 218.08L947.72 218.15L948.61 218.22L949.5 218.3L950.39 218.37L951.28 218.45L952.17 218.53L953.06 218.61L953.95 218.69L954.84 218.78L955.73 218.86L956.62 218.95L957.51 219.04L958.4 219.13L959.3 219.23L960.19 219.32L961.08 219.42L961.97 219.52L962.86 219.62L963.75 219.72L964.64 219.83L965.53 219.93L966.42 220.04L967.31 220.15L968.2 220.27L969.09 220.38L969.98 220.5L970.87 220.62L971.76 220.74L972.65 220.86L973.54 220.99L974.43 221.12L975.32 221.25L976.21 221.38L977.1 221.52L977.99 221.65L978.88 221.79L979.77 221.94L980.66 222.08L981.55 222.23L982.44 222.38L983.33 222.53L984.22 222.68L985.11 222.84L986 223L986.89 223.16L987.78 223.33L988.67 223.5L989.56 223.67L990.45 223.84L991.34 224.02L992.23 224.2L993.12 224.38L994.01 224.56L994.9 224.75L995.79 224.94L996.68 225.13L997.57 225.33L998.46 225.53L999.35 225.73L1000.24 225.93L1001.13 226.14L1002.02 226.35L1002.91 226.57L1003.79 226.79L1004.68 227.01L1005.56 227.23L1006.45 227.46L1007.33 227.7L1008.21 227.93L1009.09 228.17L1009.97 228.42L1010.85 228.67L1011.73 228.92L1012.6 229.17L1013.47 229.44L1014.34 229.7L1015.21 229.97L1016.08 230.24L1016.95 230.52L1017.81 230.81L1018.67 231.09L1019.53 231.39L1020.38 231.68L1021.23 231.98L1022.08 232.29L1022.93 232.6L1023.77 232.92L1024.62 233.24L1025.45 233.57L1026.29 233.9L1027.12 234.24L1027.95 234.58L1028.77 234.93L1029.6 235.29L1030.41 235.65L1031.23 236.01L1032.04 236.38L1032.84 236.76L1033.65 237.14L1034.44 237.53L1035.24 237.93L1036.03 238.33L1036.81 238.73L1037.59 239.15L1038.37 239.57L1039.14 239.99L1039.91 240.43L1040.67 240.86L1041.43 241.31L1042.18 241.76L1042.93 242.22L1043.67 242.69L1044.4 243.16L1045.14 243.64L1045.86 244.13L1046.58 244.62L1047.29 245.12L1048 245.63L1048.7 246.15L1049.4 246.67L1050.09 247.2L1050.77 247.74L1051.45 248.28L1052.12 248.83L1052.79 249.39L1053.45 249.96L1054.1 250.54L1054.74 251.12L1055.38 251.72L1056.01 252.32L1056.64 252.92L1057.25 253.54L1057.86 254.17L1058.47 254.8L1059.06 255.44L1059.65 256.09L1060.23 256.75L1060.8 257.41L1061.37 258.09L1061.93 258.77L1062.48 259.46L1063.02 260.15L1063.56 260.86L1064.09 261.57L1064.61 262.28L1065.13 263.01L1065.64 263.74L1066.14 264.48L1066.63 265.22L1067.12 265.97L1067.6 266.72L1068.08 267.49L1068.54 268.25L1069 269.03L1069.46 269.81L1069.9 270.59L1070.34 271.38L1070.78 272.18L1071.2 272.97L1071.62 273.78L1072.03 274.59L1072.44 275.4L1072.84 276.22L1073.23 277.04L1073.62 277.87L1074 278.7L1074.37 279.53L1074.73 280.37L1075.09 281.21L1075.45 282.06L1075.79 282.91L1076.13 283.76L1076.47 284.61L1076.8 285.47L1077.12 286.33L1077.43 287.19L1077.74 288.06L1078.04 288.92L1078.34 289.79L1078.63 290.67L1078.91 291.54L1079.19 292.41L1079.46 293.29L1079.72 294.17L1079.98 295.05L1080.24 295.93L1080.48 296.81L1080.72 297.69L1080.96 298.57L1081.19 299.46L1081.41 300.34L1081.63 301.23L1081.84 302.11L1082.04 303L1082.24 303.88L1082.44 304.77L1082.63 305.66L1082.81 306.55L1082.99 307.43L1083.16 308.32L1083.33 309.21L1083.5 310.1L1083.66 310.99L1083.81 311.88L1083.97 312.76L1084.11 313.65L1084.26 314.54L1084.39 315.43L1084.53 316.32L1084.66 317.21L1084.79 318.1L1084.91 318.99L1085.03 319.88L1085.14 320.77L1085.26 321.66L1085.37 322.55L1085.47 323.45L1085.58 324.34L1085.68 325.23L1085.77 326.12L1085.87 327.01L1085.96 327.9L1086.05 328.79L1086.14 329.67L1086.22 330.56L1086.31 331.45L1086.39 332.34L1086.47 333.23L1086.54 334.12L1086.62 335.01L1086.69 335.9L1086.76 336.78L1086.83 337.67L1086.9 338.56L1086.97 339.45L1087.04 340.34L1087.1 341.23L1087.16 342.11L1087.23 343L1087.29 343.89L1087.35 344.78L1087.41 345.66L1087.47 346.55L1087.53 347.44L1087.59 348.33L1087.65 349.22L1087.7 350.1L1087.76 350.99L1087.82 351.88L1087.88 352.77L1087.94 353.66L1087.99 354.55L1088.05 355.43L1088.11 356.32L1088.17 357.21L1088.23 358.1L1088.29 358.99L1088.35 359.88L1088.42 360.77L1088.48 361.66L1088.54 362.55L1088.61 363.44L1088.67 364.33L1088.74 365.22L1088.81 366.11L1088.88 367L1088.95 367.89L1089.03 368.79L1089.1 369.68L1089.18 370.57L1089.26 371.46L1089.34 372.36L1089.43 373.25L1089.51 374.14L1089.6 375.04L1089.69 375.93L1089.78 376.83L1089.88 377.72L1089.98 378.62L1090.08 379.51L1090.18 380.41L1090.29 381.31L1090.4 382.2L1090.51 383.1L1090.63 384L1090.75 384.9L1090.87 385.8L1091 386.7L1091.07 385.83L1091.14 384.96L1091.21 384.1L1091.28 383.23L1091.35 382.36L1091.41 381.5L1091.48 380.63L1091.55 379.77L1091.62 378.9L1091.69 378.04L1091.75 377.17L1091.82 376.31L1091.89 375.45L1091.96 374.58L1092.02 373.72L1092.09 372.86L1092.16 372L1092.22 371.13L1092.29 370.27L1092.36 369.41L1092.42 368.55L1092.49 367.69L1092.56 366.83L1092.63 365.96L1092.69 365.1L1092.76 364.24L1092.83 363.38L1092.89 362.52L1092.96 361.66L1093.03 360.79L1093.09 359.93L1093.16 359.07L1093.23 358.21L1093.3 357.34L1093.37 356.48L1093.43 355.62L1093.5 354.75L1093.57 353.89L1093.64 353.03L1093.71 352.16L1093.78 351.3L1093.85 350.43L1093.92 349.57L1093.98 348.7L1094.05 347.83L1094.13 346.96L1094.2 346.1L1094.27 345.23L1094.34 344.36L1094.41 343.49L1094.48 342.62L1094.55 341.75L1094.63 340.88L1094.7 340L1094.77 339.13L1094.85 338.26L1094.92 337.38L1094.99 336.51L1095.07 335.63L1095.15 334.76L1095.23 333.88L1095.31 333L1095.39 332.13L1095.48 331.25L1095.56 330.37L1095.65 329.5L1095.75 328.62L1095.84 327.75L1095.94 326.87L1096.05 326L1096.15 325.12L1096.26 324.25L1096.38 323.38L1096.5 322.51L1096.62 321.64L1096.75 320.77L1096.89 319.9L1097.03 319.04L1097.18 318.18L1097.33 317.31L1097.49 316.45L1097.65 315.59L1097.82 314.74L1098 313.88L1098.19 313.03L1098.38 312.18L1098.58 311.34L1098.79 310.49L1099.01 309.65L1099.23 308.81L1099.46 307.97L1099.7 307.14L1099.95 306.31L1100.21 305.48L1100.48 304.65L1100.75 303.83L1101.04 303.01L1101.33 302.2L1101.63 301.38L1101.94 300.57L1102.25 299.77L1102.57 298.96L1102.91 298.17L1103.24 297.37L1103.59 296.58L1103.95 295.79L1104.31 295L1104.68 294.22L1105.05 293.44L1105.44 292.66L1105.83 291.89L1106.23 291.12L1106.63 290.35L1107.04 289.59L1107.46 288.83L1107.89 288.08L1108.32 287.33L1108.76 286.58L1109.21 285.84L1109.66 285.1L1110.13 284.37L1110.59 283.63L1111.06 282.91L1111.54 282.18L1112.03 281.46L1112.52 280.75L1113.02 280.04L1113.53 279.33L1114.04 278.63L1114.55 277.93L1115.07 277.24L1115.6 276.55L1116.14 275.86L1116.68 275.18L1117.22 274.5L1117.77 273.83L1118.33 273.16L1118.89 272.5L1119.46 271.84L1120.03 271.19L1120.61 270.54L1121.19 269.89L1121.78 269.25L1122.37 268.62L1122.97 267.99L1123.57 267.36L1124.18 266.74L1124.8 266.13L1125.41 265.51L1126.03 264.91L1126.66 264.31L1127.29 263.71L1127.93 263.12L1128.57 262.53L1129.21 261.95L1129.86 261.38L1130.51 260.81L1131.17 260.24L1131.83 259.68L1132.5 259.13L1133.16 258.58L1133.84 258.03L1134.51 257.49L1135.19 256.96L1135.88 256.43L1136.56 255.91L1137.25 255.39L1137.95 254.88L1138.64 254.38L1139.34 253.88L1140.05 253.38L1140.76 252.89L1141.47 252.41L1142.18 251.93L1142.9 251.46L1143.62 250.99L1144.34 250.53L1145.06 250.07L1145.79 249.62L1146.53 249.18L1147.26 248.73L1148 248.3L1148.74 247.87L1149.48 247.44L1150.23 247.02L1150.98 246.61L1151.73 246.19L1152.48 245.79L1153.24 245.39L1154 244.99L1154.76 244.6L1155.53 244.21L1156.3 243.83L1157.07 243.45L1157.84 243.08L1158.62 242.71L1159.39 242.35L1160.17 241.99L1160.96 241.63L1161.74 241.28L1162.53 240.93L1163.32 240.59L1164.11 240.26L1164.91 239.92L1165.7 239.59L1166.5 239.27L1167.3 238.95L1168.1 238.63L1168.91 238.32L1169.72 238.01L1170.53 237.7L1171.34 237.4L1172.15 237.1L1172.96 236.81L1173.78 236.52L1174.6 236.23L1175.42 235.95L1176.24 235.67L1177.07 235.4L1177.89 235.12L1178.72 234.86L1179.55 234.59L1180.38 234.33L1181.21 234.07L1182.05 233.82L1182.88 233.57L1183.72 233.32L1184.56 233.08L1185.4 232.83L1186.24 232.6L1187.08 232.36L1187.92 232.13L1188.77 231.9L1189.62 231.67L1190.46 231.45L1191.31 231.23L1192.16 231.01L1193.01 230.8L1193.87 230.59L1194.72 230.38L1195.58 230.17L1196.43 229.97L1197.29 229.77L1198.15 229.57L1199.01 229.37L1199.86 229.18L1200.73 228.99L1201.59 228.8L1202.45 228.62L1203.31 228.43L1204.18 228.25L1205.04 228.07L1205.91 227.9L1206.77 227.72L1207.64 227.55L1208.5 227.38L1209.37 227.21L1210.24 227.04L1211.11 226.88L1211.98 226.72L1212.85 226.56L1213.72 226.4L1214.59 226.24L1215.46 226.09L1216.33 225.93L1217.2 225.78L1218.07 225.63L1218.94 225.48L1219.82 225.34L1220.69 225.19L1221.56 225.05L1222.43 224.9L1223.31 224.76L1224.18 224.62L1225.05 224.48L1225.92 224.35L1226.8 224.21L1227.67 224.08L1228.54 223.94L1229.41 223.81L1230.28 223.68L1231.15 223.55L1232.03 223.42L1232.9 223.29L1233.77 223.17L1234.64 223.04L1235.51 222.91L1236.38 222.79L1237.25 222.66L1238.12 222.54L1238.98 222.42L1239.85 222.3L1240.72 222.17L1241.58 222.05L1242.45 221.93L1243.32 221.81L1244.18 221.69L1245.04 221.57L1245.91 221.46L1246.77 221.34L1247.63 221.22L1248.49 221.1L1249.35 220.98L1250.21 220.87L1251.07 220.75L1251.93 220.63L1252.78 220.52L1253.64 220.4L1254.49 220.29L1255.35 220.17L1256.2 220.06L1257.06 219.94L1257.91 219.83L1258.77 219.72L1259.62 219.6L1260.47 219.49L1261.32 219.38L1262.17 219.27L1263.02 219.16L1263.88 219.05L1264.73 218.94L1265.58 218.83L1266.43 218.72L1267.28 218.62L1268.12 218.51L1268.97 218.4L1269.82 218.3L1270.67 218.2L1271.52 218.09L1272.37 217.99L1273.22 217.89L1274.06 217.79L1274.91 217.69L1275.76 217.59L1276.61 217.49L1277.46 217.39L1278.31 217.3L1279.15 217.2L1280 217.1L1280.85 217.01L1281.7 216.92L1282.55 216.83L1283.4 216.74L1284.25 216.65L1285.1 216.56L1285.95 216.47L1286.8 216.38L1287.65 216.3L1288.5 216.21L1289.35 216.13L1290.2 216.05L1291.05 215.97L1291.91 215.89L1292.76 215.81L1293.61 215.73L1294.47 215.66L1295.32 215.58L1296.18 215.51L1297.03 215.43L1297.89 215.36L1298.75 215.29L1299.6 215.23L1300.46 215.16L1301.32 215.09L1302.18 215.03L1303.04 214.97L1303.9 214.91L1304.76 214.85L1305.63 214.79L1306.49 214.73L1307.35 214.67L1308.22 214.62L1309.08 214.57L1309.95 214.52L1310.82 214.47L1311.69 214.42L1312.56 214.37L1313.43 214.33L1314.3 214.29L1315.17 214.25L1316.05 214.21L1316.92 214.17L1317.8 214.13L1318.68 214.1L1319.56 214.07L1320.44 214.03L1321.32 214.01L1322.2 213.98L1323.09 213.95L1323.97 213.93L1324.86 213.91L1325.74 213.89L1326.63 213.87L1327.52 213.85L1328.42 213.84L1329.31 213.83L1330.21 213.82L1331.1 213.81L1332 213.8" fill="none" stroke="#e8151d" stroke-width="2.05" stroke-linejoin="round" stroke-dasharray="7.3 7.5"/>
<path d="M155.4 558L156.34 557.97L157.28 557.95L158.22 557.93L159.16 557.92L160.1 557.92L161.03 557.92L161.97 557.92L162.9 557.94L163.83 557.96L164.77 557.98L165.7 558.01L166.63 558.04L167.55 558.08L168.48 558.13L169.41 558.18L170.33 558.24L171.25 558.3L172.17 558.37L173.09 558.45L174.01 558.53L174.93 558.61L175.85 558.7L176.76 558.8L177.67 558.9L178.59 559.01L179.5 559.12L180.4 559.24L181.31 559.36L182.22 559.49L183.12 559.62L184.03 559.76L184.93 559.9L185.83 560.05L186.73 560.21L187.62 560.37L188.52 560.53L189.41 560.7L190.3 560.88L191.2 561.06L192.08 561.24L192.97 561.43L193.86 561.63L194.74 561.83L195.62 562.04L196.5 562.25L197.38 562.46L198.26 562.68L199.14 562.91L200.01 563.14L200.88 563.37L201.75 563.62L202.62 563.86L203.49 564.11L204.35 564.37L205.22 564.63L206.08 564.89L206.94 565.16L207.79 565.43L208.65 565.71L209.5 566L210.35 566.28L211.2 566.58L212.05 566.87L212.9 567.18L213.74 567.48L214.58 567.79L215.42 568.11L216.26 568.43L217.1 568.76L217.93 569.08L218.76 569.42L219.59 569.76L220.42 570.1L221.24 570.45L222.07 570.8L222.89 571.15L223.71 571.52L224.52 571.88L225.34 572.25L226.15 572.62L226.96 573L227.77 573.38L228.58 573.77L229.38 574.16L230.18 574.55L230.98 574.95L231.78 575.36L232.57 575.76L233.36 576.17L234.15 576.59L234.94 577.01L235.72 577.43L236.51 577.86L237.29 578.29L238.06 578.73L238.84 579.17L239.61 579.61L240.38 580.06L241.15 580.51L241.92 580.97L242.68 581.43L243.44 581.89L244.2 582.36L244.95 582.83L245.71 583.3L246.46 583.78L247.21 584.26L247.95 584.75L248.69 585.24L249.43 585.73L250.17 586.23L250.91 586.73L251.64 587.24L252.37 587.75L253.09 588.26L253.82 588.77L254.54 589.29L255.26 589.81L255.97 590.34L256.69 590.87L257.4 591.4L258.11 591.94L258.81 592.48L259.52 593.02L260.22 593.57L260.92 594.12L261.61 594.68L262.3 595.23L262.99 595.79L263.68 596.36L264.37 596.92L265.05 597.49L265.73 598.07L266.4 598.65L267.08 599.23L267.75 599.81L268.42 600.4L269.09 600.98L269.75 601.58L270.41 602.17L271.07 602.77L271.73 603.37L272.38 603.98L273.03 604.59L273.68 605.2L274.33 605.81L274.97 606.43L275.61 607.05L276.25 607.67L276.89 608.3L277.52 608.93L278.15 609.56L278.78 610.2L279.41 610.83L280.03 611.47L280.65 612.12L281.27 612.76L281.88 613.41L282.5 614.06L283.11 614.72L283.72 615.37L284.32 616.03L284.92 616.7L285.52 617.36L286.12 618.03L286.72 618.7L287.31 619.37L287.9 620.05L288.49 620.72L289.07 621.4L289.66 622.09L290.24 622.77L290.82 623.46L291.39 624.15L291.96 624.84L292.53 625.54L293.1 626.24L293.67 626.94L294.23 627.64L294.79 628.34L295.35 629.05L295.9 629.76L296.46 630.47L297.01 631.18L297.56 631.9L298.1 632.62L298.65 633.34L299.19 634.06L299.72 634.78L300.26 635.51L300.79 636.24L301.32 636.97L301.85 637.7L302.38 638.44L302.9 639.18L303.42 639.91L303.94 640.66L304.46 641.4L304.97 642.14L305.48 642.89L305.99 643.64L306.5 644.39L307 645.14L307.5 645.9L308 646.65L308.5 647.41L309 648.17L309.49 648.93L309.98 649.7L310.46 650.46L310.95 651.23L311.43 652L311.91 652.77L312.39 653.54L312.86 654.31L313.34 655.09L313.81 655.86L314.28 656.64L314.74 657.42L315.2 658.2L315.67 658.98L316.12 659.77L316.58 660.55L317.03 661.34L317.49 662.13L317.93 662.92L318.38 663.71L318.83 664.5L319.27 665.3L319.71 666.09L320.14 666.89L320.58 667.69L321.01 668.49L321.44 669.29L321.87 670.09L322.29 670.89L322.72 671.7L323.14 672.5L323.56 673.31L323.97 674.12L324.39 674.92L324.8 675.73L325.21 676.55L325.61 677.36L326.02 678.17L326.42 678.98L326.82 679.8L327.22 680.62L327.61 681.43L328.01 682.25L328.4 683.07L328.79 683.89L329.17 684.71L329.56 685.53L329.94 686.35L330.32 687.18L330.7 688L331.07 688.83L331.45 689.65L331.82 690.48L332.19 691.31L332.56 692.14L332.92 692.97L333.28 693.8L333.65 694.63L334 695.46L334.36 696.3L334.72 697.13L335.07 697.97L335.42 698.8L335.77 699.64L336.12 700.47L336.47 701.31L336.81 702.15L337.15 702.99L337.49 703.83L337.83 704.67L338.17 705.51L338.5 706.36L338.84 707.2L339.17 708.04L339.5 708.89L339.83 709.73L340.15 710.58L340.48 711.42L340.8 712.27L341.12 713.12L341.44 713.97L341.76 714.82L342.08 715.67L342.39 716.52L342.71 717.37L343.02 718.22L343.33 719.07L343.64 719.92L343.95 720.78L344.25 721.63L344.56 722.48L344.86 723.34L345.16 724.19L345.46 725.05L345.76 725.9L346.06 726.76L346.35 727.62L346.65 728.48L346.94 729.33L347.23 730.19L347.53 731.05L347.81 731.91L348.1 732.77L348.39 733.63L348.68 734.49L348.96 735.35L349.24 736.21L349.53 737.07L349.81 737.94L350.09 738.8L350.37 739.66L350.64 740.53L350.92 741.39L351.2 742.25L351.47 743.12L351.74 743.98L352.02 744.85L352.29 745.71L352.56 746.58L352.83 747.44L353.1 748.31L353.36 749.17L353.63 750.04L353.9 750.91L354.16 751.77L354.43 752.64L354.69 753.51L354.95 754.37L355.21 755.24L355.47 756.11L355.73 756.98L355.99 757.84L356.25 758.71L356.51 759.58L356.76 760.45L357.02 761.32L357.28 762.19L357.53 763.06L357.78 763.92L358.04 764.79L358.29 765.66L358.54 766.53L358.79 767.4L359.05 768.27L359.3 769.14L359.55 770.01L359.79 770.88L360.04 771.75L360.29 772.62L360.54 773.49L360.79 774.35L361.03 775.22L361.28 776.09L361.53 776.96L361.77 777.83L362.02 778.7L362.26 779.57L362.5 780.44L362.75 781.31L362.99 782.18L363.24 783.05L363.48 783.92L363.72 784.79L363.96 785.66L364.21 786.53L364.45 787.4L364.69 788.27L364.93 789.14L365.17 790.01L365.41 790.88L365.65 791.75L365.89 792.62L366.13 793.49L366.37 794.35L366.61 795.22L366.85 796.09L367.09 796.96L367.33 797.83L367.57 798.7L367.81 799.57L368.05 800.44L368.29 801.31L368.53 802.18L368.77 803.04L369.01 803.91L369.25 804.78L369.49 805.65L369.73 806.52L369.97 807.39L370.21 808.25L370.45 809.12L370.7 809.99L370.94 810.86L371.18 811.73L371.42 812.59L371.66 813.46L371.9 814.33L372.14 815.2L372.38 816.06L372.63 816.93L372.87 817.8L373.11 818.66L373.36 819.53L373.6 820.39L373.84 821.26L374.09 822.13L374.33 822.99L374.58 823.86L374.82 824.72L375.07 825.59L375.31 826.45L375.56 827.32L375.81 828.18L376.06 829.05L376.3 829.91L376.55 830.78L376.8 831.64L377.05 832.5L377.3 833.37L377.55 834.23L377.81 835.09L378.06 835.96L378.31 836.82L378.56 837.68L378.82 838.54L379.07 839.4L379.33 840.27L379.59 841.13L379.84 841.99L380.1 842.85L380.36 843.71L380.62 844.57L380.88 845.43L381.14 846.29L381.4 847.15L381.67 848.01L381.93 848.87L382.2 849.73L382.46 850.59L382.73 851.44L383 852.3L383.26 853.16L383.53 854.02L383.8 854.87L384.08 855.73L384.35 856.59L384.62 857.44L384.9 858.3L385.17 859.15L385.45 860.01L385.73 860.86L386.01 861.72L386.29 862.57L386.57 863.43L386.85 864.28L387.13 865.13L387.42 865.99L387.71 866.84L387.99 867.69L388.28 868.54L388.57 869.4L388.86 870.25L389.16 871.1L389.45 871.95L389.75 872.8L390.04 873.65L390.34 874.5L390.64 875.35L390.94 876.2L391.25 877.04L391.55 877.89L391.85 878.74L392.16 879.59L392.47 880.43L392.78 881.28L393.09 882.12L393.4 882.97L393.72 883.81L394.04 884.66L394.35 885.5L394.67 886.35L394.99 887.19L395.32 888.03L395.64 888.88L395.97 889.72L396.3 890.56L396.63 891.4L396.96 892.24L397.29 893.08L397.62 893.92L397.96 894.76L398.3 895.6L398.64 894.76L398.98 893.92L399.31 893.08L399.64 892.24L399.97 891.4L400.3 890.56L400.63 889.72L400.96 888.88L401.28 888.03L401.61 887.19L401.93 886.35L402.25 885.5L402.56 884.66L402.88 883.81L403.2 882.97L403.51 882.12L403.82 881.28L404.13 880.43L404.44 879.59L404.75 878.74L405.05 877.89L405.35 877.04L405.66 876.2L405.96 875.35L406.26 874.5L406.56 873.65L406.85 872.8L407.15 871.95L407.44 871.1L407.74 870.25L408.03 869.4L408.32 868.54L408.61 867.69L408.89 866.84L409.18 865.99L409.47 865.13L409.75 864.28L410.03 863.43L410.31 862.57L410.59 861.72L410.87 860.86L411.15 860.01L411.43 859.15L411.7 858.3L411.98 857.44L412.25 856.59L412.52 855.73L412.8 854.87L413.07 854.02L413.34 853.16L413.6 852.3L413.87 851.44L414.14 850.59L414.4 849.73L414.67 848.87L414.93 848.01L415.2 847.15L415.46 846.29L415.72 845.43L415.98 844.57L416.24 843.71L416.5 842.85L416.76 841.99L417.01 841.13L417.27 840.27L417.53 839.4L417.78 838.54L418.04 837.68L418.29 836.82L418.54 835.96L418.79 835.09L419.05 834.23L419.3 833.37L419.55 832.5L419.8 831.64L420.05 830.78L420.3 829.91L420.54 829.05L420.79 828.18L421.04 827.32L421.29 826.45L421.53 825.59L421.78 824.72L422.02 823.86L422.27 822.99L422.51 822.13L422.76 821.26L423 820.39L423.24 819.53L423.49 818.66L423.73 817.8L423.97 816.93L424.22 816.06L424.46 815.2L424.7 814.33L424.94 813.46L425.18 812.59L425.42 811.73L425.66 810.86L425.9 809.99L426.15 809.12L426.39 808.25L426.63 807.39L426.87 806.52L427.11 805.65L427.35 804.78L427.59 803.91L427.83 803.04L428.07 802.18L428.31 801.31L428.55 800.44L428.79 799.57L429.03 798.7L429.27 797.83L429.51 796.96L429.75 796.09L429.99 795.22L430.23 794.35L430.47 793.49L430.71 792.62L430.95 791.75L431.19 790.88L431.43 790.01L431.67 789.14L431.91 788.27L432.15 787.4L432.39 786.53L432.64 785.66L432.88 784.79L433.12 783.92L433.36 783.05L433.61 782.18L433.85 781.31L434.1 780.44L434.34 779.57L434.58 778.7L434.83 777.83L435.07 776.96L435.32 776.09L435.57 775.22L435.81 774.35L436.06 773.49L436.31 772.62L436.56 771.75L436.81 770.88L437.05 770.01L437.3 769.14L437.55 768.27L437.81 767.4L438.06 766.53L438.31 765.66L438.56 764.79L438.82 763.92L439.07 763.06L439.32 762.19L439.58 761.32L439.84 760.45L440.09 759.58L440.35 758.71L440.61 757.84L440.87 756.98L441.13 756.11L441.39 755.24L441.65 754.37L441.91 753.51L442.17 752.64L442.44 751.77L442.7 750.91L442.97 750.04L443.24 749.17L443.5 748.31L443.77 747.44L444.04 746.58L444.31 745.71L444.58 744.85L444.86 743.98L445.13 743.12L445.4 742.25L445.68 741.39L445.96 740.53L446.23 739.66L446.51 738.8L446.79 737.94L447.07 737.07L447.36 736.21L447.64 735.35L447.92 734.49L448.21 733.63L448.5 732.77L448.79 731.91L449.07 731.05L449.37 730.19L449.66 729.33L449.95 728.48L450.25 727.62L450.54 726.76L450.84 725.9L451.14 725.05L451.44 724.19L451.74 723.34L452.04 722.48L452.35 721.63L452.65 720.78L452.96 719.92L453.27 719.07L453.58 718.22L453.89 717.37L454.21 716.52L454.52 715.67L454.84 714.82L455.16 713.97L455.48 713.12L455.8 712.27L456.12 711.42L456.45 710.58L456.77 709.73L457.1 708.89L457.43 708.04L457.76 707.2L458.1 706.36L458.43 705.51L458.77 704.67L459.11 703.83L459.45 702.99L459.79 702.15L460.13 701.31L460.48 700.47L460.83 699.64L461.18 698.8L461.53 697.97L461.88 697.13L462.24 696.3L462.6 695.46L462.95 694.63L463.32 693.8L463.68 692.97L464.04 692.14L464.41 691.31L464.78 690.48L465.15 689.65L465.53 688.83L465.9 688L466.28 687.18L466.66 686.35L467.04 685.53L467.43 684.71L467.81 683.89L468.2 683.07L468.59 682.25L468.99 681.43L469.38 680.62L469.78 679.8L470.18 678.98L470.58 678.17L470.99 677.36L471.39 676.55L471.8 675.73L472.21 674.92L472.63 674.12L473.04 673.31L473.46 672.5L473.88 671.7L474.31 670.89L474.73 670.09L475.16 669.29L475.59 668.49L476.02 667.69L476.46 666.89L476.89 666.09L477.33 665.3L477.77 664.5L478.22 663.71L478.67 662.92L479.11 662.13L479.57 661.34L480.02 660.55L480.48 659.77L480.93 658.98L481.4 658.2L481.86 657.42L482.32 656.64L482.79 655.86L483.26 655.09L483.74 654.31L484.21 653.54L484.69 652.77L485.17 652L485.65 651.23L486.14 650.46L486.62 649.7L487.11 648.93L487.6 648.17L488.1 647.41L488.6 646.65L489.1 645.9L489.6 645.14L490.1 644.39L490.61 643.64L491.12 642.89L491.63 642.14L492.14 641.4L492.66 640.66L493.18 639.91L493.7 639.18L494.22 638.44L494.75 637.7L495.28 636.97L495.81 636.24L496.34 635.51L496.88 634.78L497.41 634.06L497.95 633.34L498.5 632.62L499.04 631.9L499.59 631.18L500.14 630.47L500.7 629.76L501.25 629.05L501.81 628.34L502.37 627.64L502.93 626.94L503.5 626.24L504.07 625.54L504.64 624.84L505.21 624.15L505.78 623.46L506.36 622.77L506.94 622.09L507.53 621.4L508.11 620.72L508.7 620.05L509.29 619.37L509.88 618.7L510.48 618.03L511.08 617.36L511.68 616.7L512.28 616.03L512.88 615.37L513.49 614.72L514.1 614.06L514.72 613.41L515.33 612.76L515.95 612.12L516.57 611.47L517.19 610.83L517.82 610.2L518.45 609.56L519.08 608.93L519.71 608.3L520.35 607.67L520.99 607.05L521.63 606.43L522.27 605.81L522.92 605.2L523.57 604.59L524.22 603.98L524.87 603.37L525.53 602.77L526.19 602.17L526.85 601.58L527.51 600.98L528.18 600.4L528.85 599.81L529.52 599.23L530.2 598.65L530.87 598.07L531.55 597.49L532.23 596.92L532.92 596.36L533.61 595.79L534.3 595.23L534.99 594.68L535.68 594.12L536.38 593.57L537.08 593.02L537.79 592.48L538.49 591.94L539.2 591.4L539.91 590.87L540.63 590.34L541.34 589.81L542.06 589.29L542.78 588.77L543.51 588.26L544.23 587.75L544.96 587.24L545.69 586.73L546.43 586.23L547.17 585.73L547.91 585.24L548.65 584.75L549.39 584.26L550.14 583.78L550.89 583.3L551.65 582.83L552.4 582.36L553.16 581.89L553.92 581.43L554.68 580.97L555.45 580.51L556.22 580.06L556.99 579.61L557.76 579.17L558.54 578.73L559.31 578.29L560.09 577.86L560.88 577.43L561.66 577.01L562.45 576.59L563.24 576.17L564.03 575.76L564.82 575.36L565.62 574.95L566.42 574.55L567.22 574.16L568.02 573.77L568.83 573.38L569.64 573L570.45 572.62L571.26 572.25L572.08 571.88L572.89 571.52L573.71 571.15L574.53 570.8L575.36 570.45L576.18 570.1L577.01 569.76L577.84 569.42L578.67 569.08L579.5 568.76L580.34 568.43L581.18 568.11L582.02 567.79L582.86 567.48L583.7 567.18L584.55 566.87L585.4 566.58L586.25 566.28L587.1 566L587.95 565.71L588.81 565.43L589.66 565.16L590.52 564.89L591.38 564.63L592.25 564.37L593.11 564.11L593.98 563.86L594.85 563.62L595.72 563.37L596.59 563.14L597.46 562.91L598.34 562.68L599.22 562.46L600.1 562.25L600.98 562.04L601.86 561.83L602.74 561.63L603.63 561.43L604.52 561.24L605.4 561.06L606.3 560.88L607.19 560.7L608.08 560.53L608.98 560.37L609.87 560.21L610.77 560.05L611.67 559.9L612.57 559.76L613.48 559.62L614.38 559.49L615.29 559.36L616.2 559.24L617.1 559.12L618.01 559.01L618.93 558.9L619.84 558.8L620.75 558.7L621.67 558.61L622.59 558.53L623.51 558.45L624.43 558.37L625.35 558.3L626.27 558.24L627.19 558.18L628.12 558.13L629.05 558.08L629.97 558.04L630.9 558.01L631.83 557.98L632.77 557.96L633.7 557.94L634.63 557.92L635.57 557.92L636.5 557.92L637.44 557.92L638.38 557.93L639.32 557.95" fill="none" stroke="#000" stroke-width="1.9" stroke-linejoin="round"/>
<path d="M848 884.4L848.91 884.41L849.82 884.42L850.74 884.43L851.66 884.44L852.58 884.45L853.5 884.45L854.42 884.46L855.35 884.46L856.27 884.46L857.2 884.45L858.13 884.45L859.06 884.44L860 884.43L860.93 884.42L861.87 884.41L862.81 884.39L863.75 884.37L864.69 884.35L865.63 884.33L866.57 884.31L867.52 884.28L868.47 884.25L869.41 884.22L870.36 884.19L871.31 884.15L872.26 884.12L873.22 884.08L874.17 884.03L875.12 883.99L876.08 883.94L877.03 883.89L877.99 883.84L878.95 883.78L879.91 883.73L880.87 883.67L881.83 883.6L882.79 883.54L883.75 883.47L884.71 883.4L885.67 883.33L886.64 883.25L887.6 883.17L888.56 883.09L889.53 883L890.49 882.92L891.46 882.83L892.42 882.73L893.39 882.64L894.35 882.54L895.32 882.44L896.28 882.33L897.25 882.22L898.21 882.11L899.18 882L900.15 881.88L901.11 881.76L902.08 881.64L903.04 881.51L904.01 881.38L904.97 881.25L905.94 881.11L906.9 880.97L907.86 880.83L908.83 880.69L909.79 880.54L910.75 880.38L911.71 880.23L912.67 880.07L913.64 879.9L914.6 879.74L915.55 879.57L916.51 879.39L917.47 879.22L918.43 879.04L919.38 878.85L920.34 878.66L921.29 878.47L922.24 878.28L923.2 878.08L924.15 877.88L925.1 877.67L926.05 877.46L926.99 877.24L927.94 877.03L928.88 876.81L929.83 876.58L930.77 876.35L931.71 876.12L932.65 875.88L933.59 875.64L934.52 875.39L935.46 875.14L936.39 874.89L937.32 874.63L938.25 874.37L939.18 874.11L940.11 873.84L941.03 873.56L941.95 873.28L942.88 873L943.79 872.71L944.71 872.42L945.63 872.13L946.54 871.83L947.45 871.52L948.36 871.21L949.26 870.9L950.17 870.58L951.07 870.26L951.97 869.94L952.87 869.6L953.76 869.27L954.66 868.93L955.55 868.58L956.43 868.24L957.32 867.88L958.2 867.52L959.08 867.16L959.96 866.79L960.83 866.42L961.7 866.04L962.57 865.66L963.44 865.27L964.3 864.88L965.16 864.48L966.02 864.08L966.88 863.68L967.73 863.26L968.58 862.85L969.42 862.43L970.26 862L971.1 861.57L971.94 861.13L972.77 860.69L973.6 860.24L974.43 859.79L975.25 859.33L976.07 858.87L976.88 858.4L977.7 857.93L978.5 857.45L979.31 856.97L980.11 856.48L980.91 855.98L981.7 855.49L982.49 854.98L983.28 854.47L984.06 853.96L984.84 853.43L985.62 852.91L986.39 852.38L987.16 851.84L987.92 851.3L988.68 850.76L989.44 850.2L990.19 849.65L990.94 849.09L991.69 848.52L992.43 847.95L993.17 847.38L993.91 846.8L994.64 846.21L995.37 845.62L996.09 845.03L996.81 844.43L997.53 843.83L998.25 843.22L998.96 842.61L999.66 841.99L1000.37 841.37L1001.06 840.74L1001.76 840.11L1002.45 839.48L1003.14 838.84L1003.83 838.2L1004.51 837.55L1005.18 836.9L1005.86 836.25L1006.53 835.59L1007.19 834.92L1007.86 834.26L1008.52 833.58L1009.17 832.91L1009.83 832.23L1010.47 831.55L1011.12 830.86L1011.76 830.17L1012.4 829.47L1013.03 828.77L1013.66 828.07L1014.29 827.37L1014.91 826.66L1015.53 825.94L1016.15 825.23L1016.76 824.51L1017.37 823.78L1017.98 823.05L1018.58 822.32L1019.18 821.59L1019.77 820.85L1020.36 820.11L1020.95 819.37L1021.54 818.62L1022.12 817.87L1022.69 817.11L1023.27 816.36L1023.84 815.6L1024.4 814.83L1024.97 814.07L1025.53 813.3L1026.08 812.53L1026.63 811.75L1027.18 810.97L1027.73 810.19L1028.27 809.41L1028.81 808.62L1029.34 807.83L1029.87 807.04L1030.4 806.25L1030.92 805.45L1031.44 804.65L1031.96 803.85L1032.47 803.04L1032.98 802.23L1033.49 801.42L1033.99 800.61L1034.49 799.79L1034.98 798.98L1035.48 798.16L1035.97 797.34L1036.45 796.51L1036.93 795.68L1037.41 794.86L1037.88 794.03L1038.35 793.19L1038.82 792.36L1039.29 791.52L1039.75 790.68L1040.2 789.84L1040.66 789L1041.11 788.15L1041.55 787.31L1041.99 786.46L1042.43 785.61L1042.87 784.75L1043.3 783.9L1043.73 783.05L1044.16 782.19L1044.58 781.33L1045 780.47L1045.41 779.61L1045.82 778.74L1046.23 777.88L1046.63 777.01L1047.04 776.14L1047.43 775.27L1047.83 774.4L1048.22 773.53L1048.61 772.66L1048.99 771.78L1049.37 770.91L1049.75 770.03L1050.12 769.15L1050.5 768.27L1050.86 767.39L1051.23 766.5L1051.59 765.62L1051.95 764.73L1052.31 763.85L1052.66 762.96L1053.01 762.07L1053.36 761.18L1053.7 760.29L1054.04 759.39L1054.38 758.5L1054.72 757.6L1055.05 756.71L1055.38 755.81L1055.71 754.91L1056.03 754.01L1056.35 753.11L1056.67 752.21L1056.99 751.31L1057.3 750.4L1057.61 749.5L1057.92 748.59L1058.23 747.68L1058.53 746.78L1058.83 745.87L1059.13 744.96L1059.42 744.05L1059.72 743.14L1060.01 742.22L1060.3 741.31L1060.58 740.4L1060.86 739.48L1061.15 738.57L1061.42 737.65L1061.7 736.73L1061.98 735.81L1062.25 734.89L1062.52 733.98L1062.79 733.05L1063.05 732.13L1063.31 731.21L1063.58 730.29L1063.83 729.37L1064.09 728.44L1064.35 727.52L1064.6 726.59L1064.85 725.67L1065.1 724.74L1065.35 723.82L1065.59 722.89L1065.84 721.96L1066.08 721.03L1066.32 720.11L1066.56 719.18L1066.79 718.25L1067.03 717.32L1067.26 716.39L1067.49 715.46L1067.72 714.52L1067.95 713.59L1068.17 712.66L1068.4 711.73L1068.62 710.8L1068.84 709.86L1069.06 708.93L1069.28 708L1069.5 707.06L1069.71 706.13L1069.93 705.19L1070.14 704.26L1070.35 703.32L1070.56 702.39L1070.77 701.45L1070.98 700.52L1071.18 699.58L1071.39 698.65L1071.59 697.71L1071.79 696.77L1071.99 695.84L1072.19 694.9L1072.39 693.97L1072.59 693.03L1072.79 692.09L1072.98 691.16L1073.18 690.22L1073.37 689.29L1073.56 688.35L1073.76 687.41L1073.95 686.48L1074.14 685.54L1074.32 684.61L1074.51 683.67L1074.7 682.73L1074.89 681.8L1075.07 680.86L1075.25 679.93L1075.44 678.99L1075.62 678.05L1075.8 677.12L1075.98 676.18L1076.16 675.25L1076.34 674.31L1076.51 673.37L1076.69 672.44L1076.86 671.5L1077.04 670.57L1077.21 669.63L1077.38 668.69L1077.55 667.76L1077.72 666.82L1077.89 665.89L1078.06 664.95L1078.23 664.01L1078.39 663.08L1078.56 662.14L1078.72 661.2L1078.89 660.27L1079.05 659.33L1079.21 658.4L1079.37 657.46L1079.53 656.52L1079.69 655.59L1079.84 654.65L1080 653.71L1080.16 652.78L1080.31 651.84L1080.46 650.9L1080.62 649.96L1080.77 649.03L1080.92 648.09L1081.07 647.15L1081.22 646.22L1081.36 645.28L1081.51 644.34L1081.65 643.4L1081.8 642.46L1081.94 641.53L1082.09 640.59L1082.23 639.65L1082.37 638.71L1082.51 637.77L1082.65 636.84L1082.78 635.9L1082.92 634.96L1083.05 634.02L1083.19 633.08L1083.32 632.14L1083.46 631.2L1083.59 630.26L1083.72 629.32L1083.85 628.38L1083.98 627.44L1084.1 626.5L1084.23 625.56L1084.36 624.62L1084.48 623.68L1084.6 622.74L1084.73 621.8L1084.85 620.86L1084.97 619.92L1085.09 618.98L1085.21 618.04L1085.33 617.1L1085.44 616.16L1085.56 615.21L1085.67 614.27L1085.79 613.33L1085.9 612.39L1086.01 611.45L1086.12 610.5L1086.23 609.56L1086.34 608.62L1086.45 607.67L1086.56 606.73L1086.66 605.79L1086.77 604.84L1086.87 603.9L1086.97 602.95L1087.07 602.01L1087.18 601.07L1087.28 600.12L1087.37 599.18L1087.47 598.23L1087.57 597.28L1087.67 596.34L1087.76 595.39L1087.85 594.45L1087.95 593.5L1088.04 592.55L1088.13 591.61L1088.22 590.66L1088.31 589.71L1088.4 588.76L1088.48 587.82L1088.57 586.87L1088.66 585.92L1088.74 584.97L1088.82 584.02L1088.91 583.07L1088.99 582.12L1089.07 581.17L1089.15 580.22L1089.22 579.27L1089.3 578.32L1089.38 577.37L1089.45 576.42L1089.53 575.47L1089.6 574.52L1089.67 573.56L1089.74 572.61L1089.81 571.66L1089.88 570.71L1089.95 569.75L1090.02 568.8L1090.08 567.85L1090.15 566.89L1090.21 565.94L1090.28 564.98L1090.34 564.03L1090.4 563.07L1090.46 562.12L1090.52 561.16L1090.58 560.2L1090.64 559.25L1090.69 558.29L1090.75 557.33L1090.8 556.37L1090.85 555.42L1090.91 554.46L1090.96 553.5L1091.01 552.54L1091.06 551.58L1091.11 550.62L1091.15 549.66L1091.2 548.7L1091.25 549.66L1091.29 550.62L1091.34 551.58L1091.39 552.54L1091.44 553.5L1091.49 554.46L1091.55 555.42L1091.6 556.37L1091.65 557.33L1091.71 558.29L1091.76 559.25L1091.82 560.2L1091.88 561.16L1091.94 562.12L1092 563.07L1092.06 564.03L1092.12 564.98L1092.19 565.94L1092.25 566.89L1092.32 567.85L1092.38 568.8L1092.45 569.75L1092.52 570.71L1092.59 571.66L1092.66 572.61L1092.73 573.56L1092.8 574.52L1092.87 575.47L1092.95 576.42L1093.02 577.37L1093.1 578.32L1093.18 579.27L1093.25 580.22L1093.33 581.17L1093.41 582.12L1093.49 583.07L1093.58 584.02L1093.66 584.97L1093.74 585.92L1093.83 586.87L1093.92 587.82L1094 588.76L1094.09 589.71L1094.18 590.66L1094.27 591.61L1094.36 592.55L1094.45 593.5L1094.55 594.45L1094.64 595.39L1094.73 596.34L1094.83 597.28L1094.93 598.23L1095.03 599.18L1095.12 600.12L1095.22 601.07L1095.33 602.01L1095.43 602.95L1095.53 603.9L1095.63 604.84L1095.74 605.79L1095.84 606.73L1095.95 607.67L1096.06 608.62L1096.17 609.56L1096.28 610.5L1096.39 611.45L1096.5 612.39L1096.61 613.33L1096.73 614.27L1096.84 615.21L1096.96 616.16L1097.07 617.1L1097.19 618.04L1097.31 618.98L1097.43 619.92L1097.55 620.86L1097.67 621.8L1097.8 622.74L1097.92 623.68L1098.04 624.62L1098.17 625.56L1098.3 626.5L1098.42 627.44L1098.55 628.38L1098.68 629.32L1098.81 630.26L1098.94 631.2L1099.08 632.14L1099.21 633.08L1099.35 634.02L1099.48 634.96L1099.62 635.9L1099.75 636.84L1099.89 637.77L1100.03 638.71L1100.17 639.65L1100.31 640.59L1100.46 641.53L1100.6 642.46L1100.75 643.4L1100.89 644.34L1101.04 645.28L1101.18 646.22L1101.33 647.15L1101.48 648.09L1101.63 649.03L1101.78 649.96L1101.94 650.9L1102.09 651.84L1102.24 652.78L1102.4 653.71L1102.56 654.65L1102.71 655.59L1102.87 656.52L1103.03 657.46L1103.19 658.4L1103.35 659.33L1103.51 660.27L1103.68 661.2L1103.84 662.14L1104.01 663.08L1104.17 664.01L1104.34 664.95L1104.51 665.89L1104.68 666.82L1104.85 667.76L1105.02 668.69L1105.19 669.63L1105.36 670.57L1105.54 671.5L1105.71 672.44L1105.89 673.37L1106.06 674.31L1106.24 675.25L1106.42 676.18L1106.6 677.12L1106.78 678.05L1106.96 678.99L1107.15 679.93L1107.33 680.86L1107.51 681.8L1107.7 682.73L1107.89 683.67L1108.08 684.61L1108.26 685.54L1108.45 686.48L1108.64 687.41L1108.84 688.35L1109.03 689.29L1109.22 690.22L1109.42 691.16L1109.61 692.09L1109.81 693.03L1110.01 693.97L1110.21 694.9L1110.41 695.84L1110.61 696.77L1110.81 697.71L1111.01 698.65L1111.22 699.58L1111.42 700.52L1111.63 701.45L1111.84 702.39L1112.05 703.32L1112.26 704.26L1112.47 705.19L1112.69 706.13L1112.9 707.06L1113.12 708L1113.34 708.93L1113.56 709.86L1113.78 710.8L1114 711.73L1114.23 712.66L1114.45 713.59L1114.68 714.52L1114.91 715.46L1115.14 716.39L1115.37 717.32L1115.61 718.25L1115.84 719.18L1116.08 720.11L1116.32 721.03L1116.56 721.96L1116.81 722.89L1117.05 723.82L1117.3 724.74L1117.55 725.67L1117.8 726.59L1118.05 727.52L1118.31 728.44L1118.57 729.37L1118.82 730.29L1119.09 731.21L1119.35 732.13L1119.61 733.05L1119.88 733.98L1120.15 734.89L1120.42 735.81L1120.7 736.73L1120.98 737.65L1121.25 738.57L1121.54 739.48L1121.82 740.4L1122.1 741.31L1122.39 742.22L1122.68 743.14L1122.98 744.05L1123.27 744.96L1123.57 745.87L1123.87 746.78L1124.17 747.68L1124.48 748.59L1124.79 749.5L1125.1 750.4L1125.41 751.31L1125.73 752.21L1126.05 753.11L1126.37 754.01L1126.69 754.91L1127.02 755.81L1127.35 756.71L1127.68 757.6L1128.02 758.5L1128.36 759.39L1128.7 760.29L1129.04 761.18L1129.39 762.07L1129.74 762.96L1130.09 763.85L1130.45 764.73L1130.81 765.62L1131.17 766.5L1131.54 767.39L1131.9 768.27L1132.28 769.15L1132.65 770.03L1133.03 770.91L1133.41 771.78L1133.79 772.66L1134.18 773.53L1134.57 774.4L1134.97 775.27L1135.36 776.14L1135.77 777.01L1136.17 777.88L1136.58 778.74L1136.99 779.61L1137.4 780.47L1137.82 781.33L1138.24 782.19L1138.67 783.05L1139.1 783.9L1139.53 784.75L1139.97 785.61L1140.41 786.46L1140.85 787.31L1141.29 788.15L1141.74 789L1142.2 789.84L1142.65 790.68L1143.11 791.52L1143.58 792.36L1144.05 793.19L1144.52 794.03L1144.99 794.86L1145.47 795.68L1145.95 796.51L1146.43 797.34L1146.92 798.16L1147.42 798.98L1147.91 799.79L1148.41 800.61L1148.91 801.42L1149.42 802.23L1149.93 803.04L1150.44 803.85L1150.96 804.65L1151.48 805.45L1152 806.25L1152.53 807.04L1153.06 807.83L1153.59 808.62L1154.13 809.41L1154.67 810.19L1155.22 810.97L1155.77 811.75L1156.32 812.53L1156.87 813.3L1157.43 814.07L1158 814.83L1158.56 815.6L1159.13 816.36L1159.71 817.11L1160.28 817.87L1160.86 818.62L1161.45 819.37L1162.04 820.11L1162.63 820.85L1163.22 821.59L1163.82 822.32L1164.42 823.05L1165.03 823.78L1165.64 824.51L1166.25 825.23L1166.87 825.94L1167.49 826.66L1168.11 827.37L1168.74 828.07L1169.37 828.77L1170 829.47L1170.64 830.17L1171.28 830.86L1171.93 831.55L1172.57 832.23L1173.23 832.91L1173.88 833.58L1174.54 834.26L1175.21 834.92L1175.87 835.59L1176.54 836.25L1177.22 836.9L1177.89 837.55L1178.57 838.2L1179.26 838.84L1179.95 839.48L1180.64 840.11L1181.34 840.74L1182.03 841.37L1182.74 841.99L1183.44 842.61L1184.15 843.22L1184.87 843.83L1185.59 844.43L1186.31 845.03L1187.03 845.62L1187.76 846.21L1188.49 846.8L1189.23 847.38L1189.97 847.95L1190.71 848.52L1191.46 849.09L1192.21 849.65L1192.96 850.2L1193.72 850.76L1194.48 851.3L1195.24 851.84L1196.01 852.38L1196.78 852.91L1197.56 853.43L1198.34 853.96L1199.12 854.47L1199.91 854.98L1200.7 855.49L1201.49 855.98L1202.29 856.48L1203.09 856.97L1203.9 857.45L1204.7 857.93L1205.52 858.4L1206.33 858.87L1207.15 859.33L1207.97 859.79L1208.8 860.24L1209.63 860.69L1210.46 861.13L1211.3 861.57L1212.14 862L1212.98 862.43L1213.82 862.85L1214.67 863.26L1215.52 863.68L1216.38 864.08L1217.24 864.48L1218.1 864.88L1218.96 865.27L1219.83 865.66L1220.7 866.04L1221.57 866.42L1222.44 866.79L1223.32 867.16L1224.2 867.52L1225.08 867.88L1225.97 868.24L1226.85 868.58L1227.74 868.93L1228.64 869.27L1229.53 869.6L1230.43 869.94L1231.33 870.26L1232.23 870.58L1233.14 870.9L1234.04 871.21L1234.95 871.52L1235.86 871.83L1236.77 872.13L1237.69 872.42L1238.61 872.71L1239.52 873L1240.45 873.28L1241.37 873.56L1242.29 873.84L1243.22 874.11L1244.15 874.37L1245.08 874.63L1246.01 874.89L1246.94 875.14L1247.88 875.39L1248.81 875.64L1249.75 875.88L1250.69 876.12L1251.63 876.35L1252.57 876.58L1253.52 876.81L1254.46 877.03L1255.41 877.24L1256.35 877.46L1257.3 877.67L1258.25 877.88L1259.2 878.08L1260.16 878.28L1261.11 878.47L1262.06 878.66L1263.02 878.85L1263.97 879.04L1264.93 879.22L1265.89 879.39L1266.85 879.57L1267.8 879.74L1268.76 879.9L1269.73 880.07L1270.69 880.23L1271.65 880.38L1272.61 880.54L1273.57 880.69L1274.54 880.83L1275.5 880.97L1276.46 881.11L1277.43 881.25L1278.39 881.38L1279.36 881.51L1280.32 881.64L1281.29 881.76L1282.25 881.88L1283.22 882L1284.19 882.11L1285.15 882.22L1286.12 882.33L1287.08 882.44L1288.05 882.54L1289.01 882.64L1289.98 882.73L1290.94 882.83L1291.91 882.92L1292.87 883L1293.84 883.09L1294.8 883.17L1295.76 883.25L1296.73 883.33L1297.69 883.4L1298.65 883.47L1299.61 883.54L1300.57 883.6L1301.53 883.67L1302.49 883.73L1303.45 883.78L1304.41 883.84L1305.37 883.89L1306.32 883.94L1307.28 883.99L1308.23 884.03L1309.18 884.08L1310.14 884.12L1311.09 884.15L1312.04 884.19L1312.99 884.22L1313.93 884.25L1314.88 884.28L1315.83 884.31L1316.77 884.33L1317.71 884.35L1318.65 884.37L1319.59 884.39L1320.53 884.41L1321.47 884.42L1322.4 884.43L1323.34 884.44L1324.27 884.45L1325.2 884.45L1326.13 884.46L1327.05 884.46L1327.98 884.46L1328.9 884.45L1329.82 884.45L1330.74 884.44L1331.66 884.43L1332.58 884.42" fill="none" stroke="#000" stroke-width="1.95" stroke-linejoin="round"/>
<g font-size="35.5"><path d="M155.79 426.5v-9M155.79 0.8v9M276.97 426.5v-9M276.97 0.8v9M398.15 426.5v-9M398.15 0.8v9M519.33 426.5v-9M519.33 0.8v9M640.51 426.5v-9M640.51 0.8v9M216.38 426.5v-5M216.38 0.8v5M337.56 426.5v-5M337.56 0.8v5M458.74 426.5v-5M458.74 0.8v5M579.92 426.5v-5M579.92 0.8v5M95.2 391.5h9M95.2 320.52h9M95.2 249.54h9M95.2 178.56h9M95.2 107.58h9M95.2 36.6h9M95.2 356.01h5M95.2 285.03h5M95.2 214.05h5M95.2 143.07h5M95.2 72.09h5" stroke="#000" stroke-width="2.0" fill="none"/>
<rect x="95.2" y="0.8" width="605.9" height="425.7" fill="none" stroke="#000" stroke-width="2.1"/>
<text transform="translate(155.79 459) scale(1 1.05)" text-anchor="middle">-1.0</text>
<text transform="translate(276.97 459) scale(1 1.05)" text-anchor="middle">-0.5</text>
<text transform="translate(398.15 459) scale(1 1.05)" text-anchor="middle">0.0</text>
<text transform="translate(519.33 459) scale(1 1.05)" text-anchor="middle">0.5</text>
<text transform="translate(640.51 459) scale(1 1.05)" text-anchor="middle">1.0</text>
<text transform="translate(86.3 401.5) scale(1 1.05)" text-anchor="end">0.00</text>
<text transform="translate(86.3 330.52) scale(1 1.05)" text-anchor="end">0.05</text>
<text transform="translate(86.3 259.54) scale(1 1.05)" text-anchor="end">0.10</text>
<text transform="translate(86.3 188.56) scale(1 1.05)" text-anchor="end">0.15</text>
<text transform="translate(86.3 117.58) scale(1 1.05)" text-anchor="end">0.20</text>
<text transform="translate(86.3 46.6) scale(1 1.05)" text-anchor="end">0.25</text></g>
<g font-size="35.5"><path d="M848.78 426.5v-9M848.78 0.8v9M969.94 426.5v-9M969.94 0.8v9M1091.1 426.5v-9M1091.1 0.8v9M1212.26 426.5v-9M1212.26 0.8v9M1333.42 426.5v-9M1333.42 0.8v9M909.36 426.5v-5M909.36 0.8v5M1030.52 426.5v-5M1030.52 0.8v5M1151.68 426.5v-5M1151.68 0.8v5M1272.84 426.5v-5M1272.84 0.8v5M788.2 385.7h9M1394 385.7h-9M788.2 300.1h9M1394 300.1h-9M788.2 214.5h9M1394 214.5h-9M788.2 128.9h9M1394 128.9h-9M788.2 43.3h9M1394 43.3h-9M788.2 342.9h5M1394 342.9h-5M788.2 257.3h5M1394 257.3h-5M788.2 171.7h5M1394 171.7h-5M788.2 86.1h5M1394 86.1h-5" stroke="#000" stroke-width="2.0" fill="none"/>
<rect x="788.2" y="0.8" width="605.8" height="425.7" fill="none" stroke="#000" stroke-width="2.1"/>
<text transform="translate(848.78 459) scale(1 1.05)" text-anchor="middle">-1.0</text>
<text transform="translate(969.94 459) scale(1 1.05)" text-anchor="middle">-0.5</text>
<text transform="translate(1091.1 459) scale(1 1.05)" text-anchor="middle">0.0</text>
<text transform="translate(1212.26 459) scale(1 1.05)" text-anchor="middle">0.5</text>
<text transform="translate(1333.42 459) scale(1 1.05)" text-anchor="middle">1.0</text>
<text transform="translate(778.5 395.7) scale(1 1.05)" text-anchor="end">-1.0</text>
<text transform="translate(778.5 310.1) scale(1 1.05)" text-anchor="end">-0.5</text>
<text transform="translate(778.5 224.5) scale(1 1.05)" text-anchor="end">0.0</text>
<text transform="translate(778.5 138.9) scale(1 1.05)" text-anchor="end">0.5</text>
<text transform="translate(778.5 53.3) scale(1 1.05)" text-anchor="end">1.0</text></g>
<g font-size="35.5"><path d="M155.79 938.2v-9M155.79 512.1v9M276.97 938.2v-9M276.97 512.1v9M398.15 938.2v-9M398.15 512.1v9M519.33 938.2v-9M519.33 512.1v9M640.51 938.2v-9M640.51 512.1v9M216.38 938.2v-5M216.38 512.1v5M337.56 938.2v-5M337.56 512.1v5M458.74 938.2v-5M458.74 512.1v5M579.92 938.2v-5M579.92 512.1v5M95.2 909.2h9M701.1 909.2h-9M95.2 767.5h9M701.1 767.5h-9M95.2 625.8h9M701.1 625.8h-9M95.2 838.35h5M701.1 838.35h-5M95.2 696.65h5M701.1 696.65h-5M95.2 554.95h5M701.1 554.95h-5" stroke="#000" stroke-width="2.0" fill="none"/>
<rect x="95.2" y="512.1" width="605.9" height="426.1" fill="none" stroke="#000" stroke-width="2.1"/>
<text transform="translate(155.79 975.9) scale(1 1.05)" text-anchor="middle">-1.0</text>
<text transform="translate(276.97 975.9) scale(1 1.05)" text-anchor="middle">-0.5</text>
<text transform="translate(398.15 975.9) scale(1 1.05)" text-anchor="middle">0.0</text>
<text transform="translate(519.33 975.9) scale(1 1.05)" text-anchor="middle">0.5</text>
<text transform="translate(640.51 975.9) scale(1 1.05)" text-anchor="middle">1.0</text>
<text transform="translate(86.3 919.2) scale(1 1.05)" text-anchor="end">0.050</text>
<text transform="translate(86.3 777.5) scale(1 1.05)" text-anchor="end">0.055</text>
<text transform="translate(86.3 635.8) scale(1 1.05)" text-anchor="end">0.060</text></g>
<g font-size="35.5"><path d="M848.78 938v-9M848.78 506.9v9M969.94 938v-9M969.94 506.9v9M1091.1 938v-9M1091.1 506.9v9M1212.26 938v-9M1212.26 506.9v9M1333.42 938v-9M1333.42 506.9v9M909.36 938v-5M909.36 506.9v5M1030.52 938v-5M1030.52 506.9v5M1151.68 938v-5M1151.68 506.9v5M1272.84 938v-5M1272.84 506.9v5M788.2 885h9M1394 885h-9M788.2 778.43h9M1394 778.43h-9M788.2 671.86h9M1394 671.86h-9M788.2 565.29h9M1394 565.29h-9M788.2 831.72h5M1394 831.72h-5M788.2 725.14h5M1394 725.14h-5M788.2 618.58h5M1394 618.58h-5M788.2 512h5M1394 512h-5" stroke="#000" stroke-width="2.0" fill="none"/>
<rect x="788.2" y="506.9" width="605.8" height="431.1" fill="none" stroke="#000" stroke-width="2.1"/>
<text transform="translate(848.78 975.9) scale(1 1.05)" text-anchor="middle">-1.0</text>
<text transform="translate(969.94 975.9) scale(1 1.05)" text-anchor="middle">-0.5</text>
<text transform="translate(1091.1 975.9) scale(1 1.05)" text-anchor="middle">0.0</text>
<text transform="translate(1212.26 975.9) scale(1 1.05)" text-anchor="middle">0.5</text>
<text transform="translate(1333.42 975.9) scale(1 1.05)" text-anchor="middle">1.0</text>
<text transform="translate(778.5 895) scale(1 1.05)" text-anchor="end">0.0</text>
<text transform="translate(778.5 788.43) scale(1 1.05)" text-anchor="end">0.1</text>
<text transform="translate(778.5 681.86) scale(1 1.05)" text-anchor="end">0.2</text>
<text transform="translate(778.5 575.29) scale(1 1.05)" text-anchor="end">0.3</text></g>
<g font-size="35.5">
<text transform="translate(110.7 46.2) scale(1 1.0)">(a)</text>
<text transform="translate(817.3 55.6) scale(1 1.0)">(b)</text>
<text transform="translate(113.5 556.2) scale(1 1.0)">(c)</text>
<text transform="translate(821.8 563.9) scale(1 1.0)">(d)</text>
</g>
<g class="g" font-size="32">
<text class="g" x="393.5" y="493.9">γ</text>
<text class="g" x="1083.5" y="493.0">γ</text>
<text class="g" x="387.6" y="1009.2">γ</text>
<text class="g" x="1083.4" y="1010.0">γ</text>
</g>
<rect x="154.5" y="175.5" width="150" height="98.7" fill="#fff" stroke="#8a8a8a" stroke-width="1.1"/>
<path d="M161.9 196.8H233.5" stroke="#000" stroke-width="2.2" fill="none"/>
<path d="M161.5 246.3H228.5" stroke="#e8151d" stroke-width="2.1" fill="none" stroke-dasharray="7.3 7.5"/>
<g font-size="32">
<text transform="translate(241.3 208.4) scale(1 1.0)">QC<tspan font-size="18.5" dy="11.8">X</tspan></text>
<text transform="translate(241.3 258) scale(1 1.0)">QC<tspan font-size="18.5" dy="11.8">y</tspan></text>
</g>
<rect x="807.5" y="271.6" width="234.8" height="100.8" fill="#fff" stroke="#8a8a8a" stroke-width="1.1"/>
<path d="M820.5 294.7H892.6" stroke="#000" stroke-width="2.2" fill="none"/>
<path d="M820.5 344.8H887.5" stroke="#e8151d" stroke-width="2.1" fill="none" stroke-dasharray="7.3 7.5"/>
<g font-size="32">
<text transform="translate(900.2 306) scale(1 1.0)">d(QC<tspan font-size="18.5" dy="11.8">X</tspan><tspan dy="-11.8">)/d</tspan><tspan class="g" font-size="29" dx="-2">γ</tspan></text>
<text transform="translate(900.2 356) scale(1 1.0)">d(QC<tspan font-size="18.5" dy="11.8">Y</tspan><tspan dy="-11.8">)/d</tspan><tspan class="g" font-size="29" dx="-2">γ</tspan></text>
</g>
<rect x="495.5" y="702.7" width="152.2" height="49" fill="#fff" stroke="#8a8a8a" stroke-width="1.1"/>
<path d="M505.1 724.2H576.8" stroke="#000" stroke-width="2.2" fill="none"/>
<g font-size="32"><text transform="translate(584.6 735.9) scale(1 1.0)">QC<tspan font-size="18.5" dy="11.8">Z</tspan></text></g>
<rect x="1197.4" y="708.5" width="142" height="39.8" fill="#fff" stroke="#8a8a8a" stroke-width="1.1"/>
<path d="M1207.1 729.6H1279.1" stroke="#000" stroke-width="2.2" fill="none"/>
<g font-size="32"><text transform="translate(1286.9 740.7) scale(1 1.0)">QD</text></g>
<path d="M139.14 455.72H145.71V460.4H139.14ZM149.34 455.72H155.64V460.4H149.34ZM617.95 455.72H624.52V460.4H617.95ZM628.16 455.72H634.45V460.4H628.16ZM48.94 256.26H55.51V260.94H48.94ZM59.14 256.26H65.44V260.94H59.14ZM48.94 185.28H55.51V189.96H48.94ZM59.14 185.28H65.44V189.96H59.14ZM832.13 455.72H838.7V460.4H832.13ZM842.33 455.72H848.63V460.4H842.33ZM1310.86 455.72H1317.43V460.4H1310.86ZM1321.07 455.72H1327.36V460.4H1321.07ZM731.28 392.42H737.85V397.1H731.28ZM741.48 392.42H747.78V397.1H741.48ZM731.28 50.02H737.85V54.7H731.28ZM741.48 50.02H747.78V54.7H741.48ZM139.14 972.62H145.71V977.3H139.14ZM149.34 972.62H155.64V977.3H149.34ZM617.95 972.62H624.52V977.3H617.95ZM628.16 972.62H634.45V977.3H628.16ZM832.13 972.62H838.7V977.3H832.13ZM842.33 972.62H848.63V977.3H842.33ZM1310.86 972.62H1317.43V977.3H1310.86ZM1321.07 972.62H1327.36V977.3H1321.07ZM760.85 785.15H767.43V789.83H760.85ZM771.06 785.15H777.36V789.83H771.06Z" fill="#fff"/>
</svg></body></html>
